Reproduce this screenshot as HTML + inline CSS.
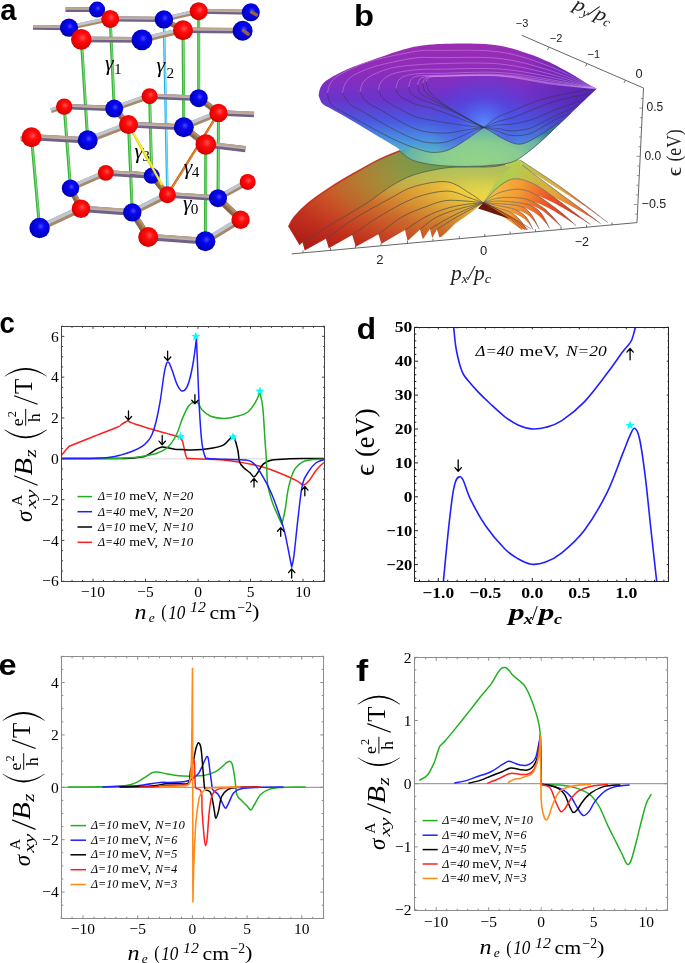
<!DOCTYPE html>
<html><head><meta charset="utf-8"><style>
html,body{margin:0;padding:0;background:#fff;}
svg{display:block;will-change:transform;}
</style></head><body>
<svg width="685" height="963" viewBox="0 0 685 963">
<rect width="685" height="963" fill="#fff"/>
<line x1="61.50" y1="458.80" x2="324.50" y2="458.80" stroke="#d8d8d8" stroke-width="1"/>
<g clip-path="url(#clipc)">
<clipPath id="clipc"><rect x="61.50" y="326.50" width="263.00" height="255.00"/></clipPath>
<path d="M61.50,455.20 C62.08,454.50 63.72,452.48 65.00,451.00 C66.28,449.52 68.50,447.08 69.20,446.30 L69.20,446.30 C73.17,444.72 85.00,439.97 93.00,436.80 C101.00,433.63 112.48,429.33 117.20,427.30 C121.92,425.27 119.93,425.48 121.30,424.60 C122.67,423.72 124.38,422.63 125.40,422.00 C126.42,421.37 127.07,421.00 127.40,420.80 L127.40,420.80 C127.92,421.03 129.13,421.63 130.50,422.20 C131.87,422.77 132.02,423.02 135.60,424.20 C139.18,425.38 146.88,427.77 152.00,429.30 C157.12,430.83 162.05,432.20 166.30,433.40 C170.55,434.60 175.12,435.65 177.50,436.50 C179.88,437.35 179.75,437.65 180.60,438.50 C181.45,439.35 181.92,439.55 182.60,441.60 C183.28,443.65 184.02,448.13 184.70,450.80 C185.38,453.47 185.68,456.30 186.70,457.60 C187.72,458.90 184.62,458.18 190.80,458.60 C196.98,459.02 213.55,459.12 223.80,460.10 C234.05,461.08 245.00,463.10 252.30,464.50 C259.60,465.90 261.40,466.38 267.60,468.50 C273.80,470.62 284.40,475.02 289.50,477.20 C294.60,479.38 295.83,480.32 298.20,481.60 C300.57,482.88 301.87,485.08 303.70,484.90 C305.53,484.72 307.18,482.87 309.20,480.50 C311.22,478.13 313.83,473.28 315.80,470.70 C317.77,468.12 319.55,466.40 321.00,465.00 C322.45,463.60 323.92,462.75 324.50,462.30" stroke="#ff1f1f" stroke-width="1.50" fill="none" stroke-linejoin="round" stroke-linecap="round"/>
<path d="M61.50,458.60 C71.25,458.58 106.92,458.73 120.00,458.50 C133.08,458.27 135.70,457.63 140.00,457.20 C144.30,456.77 143.47,456.97 145.80,455.90 C148.13,454.83 151.97,452.05 154.00,450.80 C156.03,449.55 156.63,449.02 158.00,448.40 C159.37,447.78 160.70,447.23 162.20,447.10 C163.70,446.97 164.97,447.25 167.00,447.60 C169.03,447.95 171.90,448.87 174.40,449.20 C176.90,449.53 179.27,449.47 182.00,449.60 C184.73,449.73 187.47,450.00 190.80,450.00 C194.13,450.00 198.33,449.92 202.00,449.60 C205.67,449.28 209.17,448.90 212.80,448.10 C216.43,447.30 220.87,446.45 223.80,444.80 C226.73,443.15 228.77,439.80 230.40,438.20 C232.03,436.60 233.07,435.70 233.60,435.20 L233.60,435.20 C233.97,436.37 235.07,439.57 235.80,442.20 C236.53,444.83 237.37,447.72 238.00,451.00 C238.63,454.28 238.68,459.17 239.60,461.90 C240.52,464.63 241.77,465.58 243.50,467.40 C245.23,469.22 248.25,471.23 250.00,472.80 C251.75,474.37 252.72,476.80 254.00,476.80 C255.28,476.80 256.17,474.92 257.70,472.80 C259.23,470.68 260.82,466.22 263.20,464.10 C265.58,461.98 267.62,460.98 272.00,460.10 C276.38,459.22 283.67,459.05 289.50,458.80 C295.33,458.55 301.25,458.63 307.00,458.60 C312.75,458.57 321.17,458.60 324.00,458.60" stroke="#000" stroke-width="1.50" fill="none" stroke-linejoin="round" stroke-linecap="round"/>
<path d="M61.50,458.60 C69.58,458.58 98.58,458.63 110.00,458.50 C121.42,458.37 124.72,458.13 130.00,457.80 C135.28,457.47 138.37,456.97 141.70,456.50 C145.03,456.03 147.27,455.62 150.00,455.00 C152.73,454.38 155.05,454.18 158.10,452.80 C161.15,451.42 165.23,449.75 168.30,446.70 C171.37,443.65 174.12,439.27 176.50,434.50 C178.88,429.73 180.55,422.88 182.60,418.10 C184.65,413.32 186.75,408.52 188.80,405.80 C190.85,403.08 193.28,402.18 194.90,401.80 C196.52,401.42 197.33,402.17 198.50,403.50 C199.67,404.83 199.87,407.67 201.90,409.80 C203.93,411.93 207.05,414.85 210.70,416.30 C214.35,417.75 219.43,418.50 223.80,418.50 C228.17,418.50 232.88,417.38 236.90,416.30 C240.92,415.22 244.80,414.37 247.90,412.00 C251.00,409.63 253.50,405.38 255.50,402.10 C257.50,398.82 259.17,393.93 259.90,392.30 L259.90,392.30 C260.38,394.85 261.95,399.58 262.80,407.60 C263.65,415.62 264.38,431.35 265.00,440.40 C265.62,449.45 266.07,454.67 266.50,461.90 C266.93,469.13 266.68,477.23 267.60,483.80 C268.52,490.37 270.37,496.20 272.00,501.30 C273.63,506.40 275.77,510.57 277.40,514.40 C279.03,518.23 281.07,522.65 281.80,524.30 L281.80,524.30 C282.35,521.92 284.00,516.02 285.10,510.00 C286.20,503.98 286.93,494.75 288.40,488.20 C289.87,481.65 291.53,475.08 293.90,470.70 C296.27,466.32 299.68,463.73 302.60,461.90 C305.52,460.07 307.83,460.13 311.40,459.70 C314.97,459.27 321.90,459.37 324.00,459.30" stroke="#22b022" stroke-width="1.50" fill="none" stroke-linejoin="round" stroke-linecap="round"/>
<path d="M61.50,458.60 C66.25,458.58 81.92,458.72 90.00,458.50 C98.08,458.28 104.78,457.90 110.00,457.30 C115.22,456.70 117.47,455.95 121.30,454.90 C125.13,453.85 129.60,452.37 133.00,451.00 C136.40,449.63 139.20,448.37 141.70,446.70 C144.20,445.03 146.28,443.03 148.00,441.00 C149.72,438.97 150.67,437.67 152.00,434.50 C153.33,431.33 154.65,427.47 156.00,422.00 C157.35,416.53 158.73,409.85 160.10,401.70 C161.47,393.55 163.13,379.47 164.20,373.10 C165.27,366.73 165.88,365.37 166.50,363.50 C167.12,361.63 167.40,361.90 167.90,361.90 C168.40,361.90 168.75,361.97 169.50,363.50 C170.25,365.03 171.07,367.45 172.40,371.10 C173.73,374.75 175.87,382.07 177.50,385.40 C179.13,388.73 180.50,391.10 182.20,391.10 C183.90,391.10 185.93,389.75 187.70,385.40 C189.47,381.05 191.35,372.80 192.80,365.00 C194.25,357.20 195.80,343.00 196.40,338.60 L196.40,338.60 C196.58,342.80 197.02,352.30 197.50,363.80 C197.98,375.30 198.57,394.47 199.30,407.60 C200.03,420.73 200.92,434.38 201.90,442.60 C202.88,450.82 204.10,454.27 205.20,456.90 C206.30,459.53 205.40,458.00 208.50,458.40 C211.60,458.80 217.60,459.02 223.80,459.30 C230.00,459.58 240.60,459.30 245.70,460.10 C250.80,460.90 251.48,461.25 254.40,464.10 C257.32,466.95 260.27,472.10 263.20,477.20 C266.13,482.30 269.08,487.77 272.00,494.70 C274.92,501.63 278.52,512.22 280.70,518.80 C282.88,525.38 283.63,528.00 285.10,534.20 C286.57,540.40 288.40,550.53 289.50,556.00 C290.60,561.47 291.33,565.17 291.70,567.00 L291.70,567.00 C292.07,565.17 292.82,564.40 293.90,556.00 C294.98,547.60 296.75,528.63 298.20,516.60 C299.65,504.57 300.77,491.45 302.60,483.80 C304.43,476.15 307.00,474.17 309.20,470.70 C311.40,467.23 313.43,464.83 315.80,463.00 C318.17,461.17 322.03,460.28 323.40,459.70 C324.77,459.12 323.90,459.53 324.00,459.50" stroke="#1f1fff" stroke-width="1.50" fill="none" stroke-linejoin="round" stroke-linecap="round"/>
</g>
<rect x="61.50" y="326.50" width="263.00" height="255.00" fill="none" stroke="#444" stroke-width="1.00"/>
<path d="M93.00,581.50v-2.80M93.00,326.50v2.38M145.50,581.50v-2.80M145.50,326.50v2.38M198.00,581.50v-2.80M198.00,326.50v2.38M250.50,581.50v-2.80M250.50,326.50v2.38M303.00,581.50v-2.80M303.00,326.50v2.38M61.50,581.50v-1.60M61.50,326.50v1.36M72.00,581.50v-1.60M72.00,326.50v1.36M82.50,581.50v-1.60M82.50,326.50v1.36M103.50,581.50v-1.60M103.50,326.50v1.36M114.00,581.50v-1.60M114.00,326.50v1.36M124.50,581.50v-1.60M124.50,326.50v1.36M135.00,581.50v-1.60M135.00,326.50v1.36M156.00,581.50v-1.60M156.00,326.50v1.36M166.50,581.50v-1.60M166.50,326.50v1.36M177.00,581.50v-1.60M177.00,326.50v1.36M187.50,581.50v-1.60M187.50,326.50v1.36M208.50,581.50v-1.60M208.50,326.50v1.36M219.00,581.50v-1.60M219.00,326.50v1.36M229.50,581.50v-1.60M229.50,326.50v1.36M240.00,581.50v-1.60M240.00,326.50v1.36M261.00,581.50v-1.60M261.00,326.50v1.36M271.50,581.50v-1.60M271.50,326.50v1.36M282.00,581.50v-1.60M282.00,326.50v1.36M292.50,581.50v-1.60M292.50,326.50v1.36M313.50,581.50v-1.60M313.50,326.50v1.36M324.00,581.50v-1.60M324.00,326.50v1.36M61.50,581.26h2.80M324.50,581.26h-2.38M61.50,540.44h2.80M324.50,540.44h-2.38M61.50,499.62h2.80M324.50,499.62h-2.38M61.50,458.80h2.80M324.50,458.80h-2.38M61.50,417.98h2.80M324.50,417.98h-2.38M61.50,377.16h2.80M324.50,377.16h-2.38M61.50,336.34h2.80M324.50,336.34h-2.38M61.50,571.06h1.60M324.50,571.06h-1.36M61.50,560.85h1.60M324.50,560.85h-1.36M61.50,550.64h1.60M324.50,550.64h-1.36M61.50,530.24h1.60M324.50,530.24h-1.36M61.50,520.03h1.60M324.50,520.03h-1.36M61.50,509.82h1.60M324.50,509.82h-1.36M61.50,489.42h1.60M324.50,489.42h-1.36M61.50,479.21h1.60M324.50,479.21h-1.36M61.50,469.00h1.60M324.50,469.00h-1.36M61.50,448.60h1.60M324.50,448.60h-1.36M61.50,438.39h1.60M324.50,438.39h-1.36M61.50,428.19h1.60M324.50,428.19h-1.36M61.50,407.78h1.60M324.50,407.78h-1.36M61.50,397.57h1.60M324.50,397.57h-1.36M61.50,387.37h1.60M324.50,387.37h-1.36M61.50,366.96h1.60M324.50,366.96h-1.36M61.50,356.75h1.60M324.50,356.75h-1.36M61.50,346.55h1.60M324.50,346.55h-1.36M61.50,326.13h1.60M324.50,326.13h-1.36" stroke="#444" stroke-width="1.00" fill="none"/>
<text x="58.80" y="586.46" font-family="'Liberation Serif', serif" font-size="15.50" text-anchor="end" font-weight="normal" font-style="normal" fill="#000" >&#8722;6</text>
<text x="58.80" y="545.64" font-family="'Liberation Serif', serif" font-size="15.50" text-anchor="end" font-weight="normal" font-style="normal" fill="#000" >&#8722;4</text>
<text x="58.80" y="504.82" font-family="'Liberation Serif', serif" font-size="15.50" text-anchor="end" font-weight="normal" font-style="normal" fill="#000" >&#8722;2</text>
<text x="58.80" y="464.00" font-family="'Liberation Serif', serif" font-size="15.50" text-anchor="end" font-weight="normal" font-style="normal" fill="#000" >0</text>
<text x="58.80" y="423.18" font-family="'Liberation Serif', serif" font-size="15.50" text-anchor="end" font-weight="normal" font-style="normal" fill="#000" >2</text>
<text x="58.80" y="382.36" font-family="'Liberation Serif', serif" font-size="15.50" text-anchor="end" font-weight="normal" font-style="normal" fill="#000" >4</text>
<text x="58.80" y="341.54" font-family="'Liberation Serif', serif" font-size="15.50" text-anchor="end" font-weight="normal" font-style="normal" fill="#000" >6</text>
<text x="93.00" y="596.50" font-family="'Liberation Serif', serif" font-size="15.50" text-anchor="middle" font-weight="normal" font-style="normal" fill="#000" >&#8722;10</text>
<text x="145.50" y="596.50" font-family="'Liberation Serif', serif" font-size="15.50" text-anchor="middle" font-weight="normal" font-style="normal" fill="#000" >&#8722;5</text>
<text x="198.00" y="596.50" font-family="'Liberation Serif', serif" font-size="15.50" text-anchor="middle" font-weight="normal" font-style="normal" fill="#000" >0</text>
<text x="250.50" y="596.50" font-family="'Liberation Serif', serif" font-size="15.50" text-anchor="middle" font-weight="normal" font-style="normal" fill="#000" >5</text>
<text x="303.00" y="596.50" font-family="'Liberation Serif', serif" font-size="15.50" text-anchor="middle" font-weight="normal" font-style="normal" fill="#000" >10</text>
<path d="M128.50,411.00V420.00M125.30,416.40L128.50,420.00L131.70,416.40" stroke="#000" stroke-width="1.3" fill="none" stroke-linecap="round" stroke-linejoin="round"/>
<path d="M167.60,351.20V360.60M164.40,357.00L167.60,360.60L170.80,357.00" stroke="#000" stroke-width="1.3" fill="none" stroke-linecap="round" stroke-linejoin="round"/>
<path d="M162.20,435.50V444.70M159.00,441.10L162.20,444.70L165.40,441.10" stroke="#000" stroke-width="1.3" fill="none" stroke-linecap="round" stroke-linejoin="round"/>
<path d="M194.90,394.60V403.80M191.70,400.20L194.90,403.80L198.10,400.20" stroke="#000" stroke-width="1.3" fill="none" stroke-linecap="round" stroke-linejoin="round"/>
<path d="M254.00,487.00V478.50M250.80,482.10L254.00,478.50L257.20,482.10" stroke="#000" stroke-width="1.3" fill="none" stroke-linecap="round" stroke-linejoin="round"/>
<path d="M280.70,536.30V527.60M277.50,531.20L280.70,527.60L283.90,531.20" stroke="#000" stroke-width="1.3" fill="none" stroke-linecap="round" stroke-linejoin="round"/>
<path d="M291.70,578.00V569.00M288.50,572.60L291.70,569.00L294.90,572.60" stroke="#000" stroke-width="1.3" fill="none" stroke-linecap="round" stroke-linejoin="round"/>
<path d="M304.80,495.80V486.50M301.60,490.10L304.80,486.50L308.00,490.10" stroke="#000" stroke-width="1.3" fill="none" stroke-linecap="round" stroke-linejoin="round"/>
<polygon points="195.80,331.60 196.98,334.78 200.37,334.92 197.70,337.02 198.62,340.28 195.80,338.40 192.98,340.28 193.90,337.02 191.23,334.92 194.62,334.78" fill="#00ffff"/>
<polygon points="180.60,431.70 181.78,434.88 185.17,435.02 182.50,437.12 183.42,440.38 180.60,438.50 177.78,440.38 178.70,437.12 176.03,435.02 179.42,434.88" fill="#00ffff"/>
<polygon points="259.90,386.40 261.08,389.58 264.47,389.72 261.80,391.82 262.72,395.08 259.90,393.20 257.08,395.08 258.00,391.82 255.33,389.72 258.72,389.58" fill="#00ffff"/>
<polygon points="233.00,432.30 234.18,435.48 237.57,435.62 234.90,437.72 235.82,440.98 233.00,439.10 230.18,440.98 231.10,437.72 228.43,435.62 231.82,435.48" fill="#00ffff"/>
<line x1="77.50" y1="496.60" x2="92.10" y2="496.60" stroke="#22b022" stroke-width="1.5"/>
<text x="98.00" y="500.40" font-family="'Liberation Serif', serif" font-size="12.80" font-style="italic" textLength="27.20" lengthAdjust="spacingAndGlyphs">&#916;=10</text>
<text x="129.20" y="500.40" font-family="'Liberation Serif', serif" font-size="12.80" textLength="28.90" lengthAdjust="spacingAndGlyphs">meV,</text>
<text x="162.90" y="500.40" font-family="'Liberation Serif', serif" font-size="12.80" font-style="italic" textLength="30.20" lengthAdjust="spacingAndGlyphs">N=20</text>
<line x1="77.50" y1="511.70" x2="92.10" y2="511.70" stroke="#1f1fff" stroke-width="1.5"/>
<text x="98.00" y="515.50" font-family="'Liberation Serif', serif" font-size="12.80" font-style="italic" textLength="27.20" lengthAdjust="spacingAndGlyphs">&#916;=40</text>
<text x="129.20" y="515.50" font-family="'Liberation Serif', serif" font-size="12.80" textLength="28.90" lengthAdjust="spacingAndGlyphs">meV,</text>
<text x="162.90" y="515.50" font-family="'Liberation Serif', serif" font-size="12.80" font-style="italic" textLength="30.20" lengthAdjust="spacingAndGlyphs">N=20</text>
<line x1="77.50" y1="527.00" x2="92.10" y2="527.00" stroke="#000" stroke-width="1.5"/>
<text x="98.00" y="530.80" font-family="'Liberation Serif', serif" font-size="12.80" font-style="italic" textLength="27.20" lengthAdjust="spacingAndGlyphs">&#916;=10</text>
<text x="129.20" y="530.80" font-family="'Liberation Serif', serif" font-size="12.80" textLength="28.90" lengthAdjust="spacingAndGlyphs">meV,</text>
<text x="162.90" y="530.80" font-family="'Liberation Serif', serif" font-size="12.80" font-style="italic" textLength="30.20" lengthAdjust="spacingAndGlyphs">N=10</text>
<line x1="77.50" y1="542.30" x2="92.10" y2="542.30" stroke="#ff1f1f" stroke-width="1.5"/>
<text x="98.00" y="546.10" font-family="'Liberation Serif', serif" font-size="12.80" font-style="italic" textLength="27.20" lengthAdjust="spacingAndGlyphs">&#916;=40</text>
<text x="129.20" y="546.10" font-family="'Liberation Serif', serif" font-size="12.80" textLength="28.90" lengthAdjust="spacingAndGlyphs">meV,</text>
<text x="162.90" y="546.10" font-family="'Liberation Serif', serif" font-size="12.80" font-style="italic" textLength="30.20" lengthAdjust="spacingAndGlyphs">N=10</text>
<text x="134.40" y="618.70" font-family="'Liberation Serif', serif" font-size="20.00" font-style="italic" textLength="12.00" lengthAdjust="spacingAndGlyphs">n</text>
<text x="148.70" y="622.00" font-family="'Liberation Serif', serif" font-size="13.50" font-style="italic" textLength="6.00" lengthAdjust="spacingAndGlyphs">e</text>
<text x="161.30" y="618.20" font-family="'Liberation Serif', serif" font-size="18.50"  textLength="5.40" lengthAdjust="spacingAndGlyphs">(</text>
<text x="168.20" y="618.70" font-family="'Liberation Serif', serif" font-size="18.00" font-style="italic" textLength="17.20" lengthAdjust="spacingAndGlyphs">10</text>
<text x="190.00" y="612.20" font-family="'Liberation Serif', serif" font-size="14.00" font-style="italic" textLength="15.80" lengthAdjust="spacingAndGlyphs">12</text>
<text x="209.60" y="618.70" font-family="'Liberation Serif', serif" font-size="19.50"  textLength="26.60" lengthAdjust="spacingAndGlyphs">cm</text>
<text x="237.60" y="612.20" font-family="'Liberation Serif', serif" font-size="14.00"  textLength="14.60" lengthAdjust="spacingAndGlyphs">&#8722;2</text>
<text x="252.00" y="618.20" font-family="'Liberation Serif', serif" font-size="18.50"  textLength="7.40" lengthAdjust="spacingAndGlyphs">)</text>
<g transform="translate(31.70,521.50) rotate(-90)" font-family="'Liberation Serif', serif" fill="#000">
<text x="-0.5" y="0" font-size="23" font-style="italic">&#963;</text>
<text x="15.6" y="-9.6" font-size="15.5">A</text>
<text x="13.0" y="4.6" font-size="15" font-style="italic" textLength="19" lengthAdjust="spacingAndGlyphs">xy</text>
<path d="M36.3,5.9 L45.8,-17.6" stroke="#000" stroke-width="1.15"/>
<text x="46.0" y="0" font-size="24.5" font-style="italic" textLength="17.5" lengthAdjust="spacingAndGlyphs">B</text>
<text x="64.0" y="3.9" font-size="16" font-style="italic" textLength="8.2" lengthAdjust="spacingAndGlyphs">z</text>
<path d="M91.6,-27.2 Q75.0,-6 91.6,15.2 L92.0,14.9 Q78.2,-6 92.0,-26.9 Z" fill="#000"/>
<path d="M145.3,-27.2 Q161.9,-6 145.3,15.2 L144.9,14.9 Q158.7,-6 144.9,-26.9 Z" fill="#000"/>
<text x="95.3" y="-8.6" font-size="17.5">e</text>
<text x="104.3" y="-16.1" font-size="12.3">2</text>
<line x1="95.8" y1="-6" x2="112.6" y2="-6" stroke="#000" stroke-width="0.95"/>
<text x="99.6" y="8.3" font-size="17.5">h</text>
<path d="M117.2,5.9 L125.8,-17.6" stroke="#000" stroke-width="1.15"/>
<text x="127.6" y="0.3" font-size="25">T</text>
</g>
<clipPath id="clipd"><rect x="414.50" y="327.50" width="254.00" height="254.00"/></clipPath>
<g clip-path="url(#clipd)">
<path d="M453.70,327.30 C454.00,330.22 454.82,339.85 455.50,344.80 C456.18,349.75 456.93,353.17 457.80,357.00 C458.67,360.83 459.75,364.88 460.70,367.80 C461.65,370.72 462.28,372.38 463.50,374.50 C464.72,376.62 465.53,377.57 468.00,380.50 C470.47,383.43 474.63,388.27 478.30,392.10 C481.97,395.93 485.57,399.38 490.00,403.50 C494.43,407.62 500.23,413.22 504.90,416.80 C509.57,420.38 513.58,422.98 518.00,425.00 C522.42,427.02 526.73,428.52 531.40,428.90 C536.07,429.28 540.93,428.68 546.00,427.30 C551.07,425.92 555.37,424.88 561.80,420.60 C568.23,416.32 577.02,409.52 584.60,401.60 C592.18,393.68 600.98,381.37 607.30,373.10 C613.62,364.83 619.05,356.60 622.50,352.00 C625.95,347.40 626.50,347.42 628.00,345.50 C629.50,343.58 630.52,342.58 631.50,340.50 C632.48,338.42 633.27,335.20 633.90,333.00 C634.53,330.80 635.07,328.25 635.30,327.30" stroke="#1f1fff" stroke-width="1.60" fill="none" stroke-linejoin="round" stroke-linecap="round"/>
<path d="M443.40,581.40 C444.17,573.47 446.48,548.05 448.00,533.80 C449.52,519.55 451.23,504.62 452.50,495.90 C453.77,487.18 454.47,484.67 455.60,481.50 C456.73,478.33 458.05,477.15 459.30,476.90 C460.55,476.65 461.20,476.20 463.10,480.00 C465.00,483.80 466.90,491.98 470.70,499.70 C474.50,507.42 480.20,518.08 485.90,526.30 C491.60,534.52 499.55,543.58 504.90,549.00 C510.25,554.42 513.58,556.27 518.00,558.80 C522.42,561.33 526.90,563.62 531.40,564.20 C535.90,564.78 539.93,564.20 545.00,562.30 C550.07,560.40 555.20,558.18 561.80,552.80 C568.40,547.42 577.02,540.12 584.60,530.00 C592.18,519.88 600.98,504.75 607.30,492.10 C613.62,479.45 618.70,463.58 622.50,454.10 C626.30,444.62 628.07,439.50 630.10,435.20 C632.13,430.90 633.12,427.67 634.70,428.30 C636.28,428.93 637.83,430.90 639.60,439.00 C641.37,447.10 643.40,461.73 645.30,476.90 C647.20,492.07 649.10,512.58 651.00,530.00 C652.90,547.42 655.75,572.83 656.70,581.40" stroke="#1f1fff" stroke-width="1.60" fill="none" stroke-linejoin="round" stroke-linecap="round"/>
</g>
<rect x="414.50" y="327.50" width="254.00" height="254.00" fill="none" stroke="#222" stroke-width="1.00"/>
<path d="M438.30,581.50v-3.50M438.30,327.50v1.75M485.30,581.50v-3.50M485.30,327.50v1.75M532.30,581.50v-3.50M532.30,327.50v1.75M579.30,581.50v-3.50M579.30,327.50v1.75M626.30,581.50v-3.50M626.30,327.50v1.75M419.50,581.50v-1.80M419.50,327.50v0.90M428.90,581.50v-1.80M428.90,327.50v0.90M447.70,581.50v-1.80M447.70,327.50v0.90M457.10,581.50v-1.80M457.10,327.50v0.90M466.50,581.50v-1.80M466.50,327.50v0.90M475.90,581.50v-1.80M475.90,327.50v0.90M494.70,581.50v-1.80M494.70,327.50v0.90M504.10,581.50v-1.80M504.10,327.50v0.90M513.50,581.50v-1.80M513.50,327.50v0.90M522.90,581.50v-1.80M522.90,327.50v0.90M541.70,581.50v-1.80M541.70,327.50v0.90M551.10,581.50v-1.80M551.10,327.50v0.90M560.50,581.50v-1.80M560.50,327.50v0.90M569.90,581.50v-1.80M569.90,327.50v0.90M588.70,581.50v-1.80M588.70,327.50v0.90M598.10,581.50v-1.80M598.10,327.50v0.90M607.50,581.50v-1.80M607.50,327.50v0.90M616.90,581.50v-1.80M616.90,327.50v0.90M635.70,581.50v-1.80M635.70,327.50v0.90M645.10,581.50v-1.80M645.10,327.50v0.90M654.50,581.50v-1.80M654.50,327.50v0.90M663.90,581.50v-1.80M663.90,327.50v0.90M414.50,564.60h3.50M668.50,564.60h-1.75M414.50,530.70h3.50M668.50,530.70h-1.75M414.50,496.80h3.50M668.50,496.80h-1.75M414.50,462.90h3.50M668.50,462.90h-1.75M414.50,429.00h3.50M668.50,429.00h-1.75M414.50,395.10h3.50M668.50,395.10h-1.75M414.50,361.20h3.50M668.50,361.20h-1.75M414.50,327.30h3.50M668.50,327.30h-1.75M414.50,578.16h1.80M668.50,578.16h-0.90M414.50,571.38h1.80M668.50,571.38h-0.90M414.50,557.82h1.80M668.50,557.82h-0.90M414.50,551.04h1.80M668.50,551.04h-0.90M414.50,544.26h1.80M668.50,544.26h-0.90M414.50,537.48h1.80M668.50,537.48h-0.90M414.50,523.92h1.80M668.50,523.92h-0.90M414.50,517.14h1.80M668.50,517.14h-0.90M414.50,510.36h1.80M668.50,510.36h-0.90M414.50,503.58h1.80M668.50,503.58h-0.90M414.50,490.02h1.80M668.50,490.02h-0.90M414.50,483.24h1.80M668.50,483.24h-0.90M414.50,476.46h1.80M668.50,476.46h-0.90M414.50,469.68h1.80M668.50,469.68h-0.90M414.50,456.12h1.80M668.50,456.12h-0.90M414.50,449.34h1.80M668.50,449.34h-0.90M414.50,442.56h1.80M668.50,442.56h-0.90M414.50,435.78h1.80M668.50,435.78h-0.90M414.50,422.22h1.80M668.50,422.22h-0.90M414.50,415.44h1.80M668.50,415.44h-0.90M414.50,408.66h1.80M668.50,408.66h-0.90M414.50,401.88h1.80M668.50,401.88h-0.90M414.50,388.32h1.80M668.50,388.32h-0.90M414.50,381.54h1.80M668.50,381.54h-0.90M414.50,374.76h1.80M668.50,374.76h-0.90M414.50,367.98h1.80M668.50,367.98h-0.90M414.50,354.42h1.80M668.50,354.42h-0.90M414.50,347.64h1.80M668.50,347.64h-0.90M414.50,340.86h1.80M668.50,340.86h-0.90M414.50,334.08h1.80M668.50,334.08h-0.90" stroke="#222" stroke-width="1.00" fill="none"/>
<text x="412.40" y="569.60" font-family="'Liberation Serif', serif" font-size="15.5" font-weight="bold" text-anchor="end" textLength="26.0" lengthAdjust="spacingAndGlyphs">&#8722;20</text>
<text x="412.40" y="535.70" font-family="'Liberation Serif', serif" font-size="15.5" font-weight="bold" text-anchor="end" textLength="26.0" lengthAdjust="spacingAndGlyphs">&#8722;10</text>
<text x="412.40" y="501.80" font-family="'Liberation Serif', serif" font-size="15.5" font-weight="bold" text-anchor="end" textLength="8.6" lengthAdjust="spacingAndGlyphs">0</text>
<text x="412.40" y="467.90" font-family="'Liberation Serif', serif" font-size="15.5" font-weight="bold" text-anchor="end" textLength="17.6" lengthAdjust="spacingAndGlyphs">10</text>
<text x="412.40" y="434.00" font-family="'Liberation Serif', serif" font-size="15.5" font-weight="bold" text-anchor="end" textLength="17.6" lengthAdjust="spacingAndGlyphs">20</text>
<text x="412.40" y="400.10" font-family="'Liberation Serif', serif" font-size="15.5" font-weight="bold" text-anchor="end" textLength="17.6" lengthAdjust="spacingAndGlyphs">30</text>
<text x="412.40" y="366.20" font-family="'Liberation Serif', serif" font-size="15.5" font-weight="bold" text-anchor="end" textLength="17.6" lengthAdjust="spacingAndGlyphs">40</text>
<text x="412.40" y="332.30" font-family="'Liberation Serif', serif" font-size="15.5" font-weight="bold" text-anchor="end" textLength="17.6" lengthAdjust="spacingAndGlyphs">50</text>
<text x="438.30" y="598.30" font-family="'Liberation Serif', serif" font-size="15.5" font-weight="bold" text-anchor="middle" textLength="31.8" lengthAdjust="spacingAndGlyphs">&#8722;1.0</text>
<text x="485.30" y="598.30" font-family="'Liberation Serif', serif" font-size="15.5" font-weight="bold" text-anchor="middle" textLength="31.8" lengthAdjust="spacingAndGlyphs">&#8722;0.5</text>
<text x="532.30" y="598.30" font-family="'Liberation Serif', serif" font-size="15.5" font-weight="bold" text-anchor="middle" textLength="22.2" lengthAdjust="spacingAndGlyphs">0.0</text>
<text x="579.30" y="598.30" font-family="'Liberation Serif', serif" font-size="15.5" font-weight="bold" text-anchor="middle" textLength="22.2" lengthAdjust="spacingAndGlyphs">0.5</text>
<text x="626.30" y="598.30" font-family="'Liberation Serif', serif" font-size="15.5" font-weight="bold" text-anchor="middle" textLength="22.2" lengthAdjust="spacingAndGlyphs">1.0</text>
<path d="M458.20,459.80V471.20M455.00,467.60L458.20,471.20L461.40,467.60" stroke="#000" stroke-width="1.3" fill="none" stroke-linecap="round" stroke-linejoin="round"/>
<path d="M630.10,359.80V348.50M626.90,352.10L630.10,348.50L633.30,352.10" stroke="#000" stroke-width="1.3" fill="none" stroke-linecap="round" stroke-linejoin="round"/>
<polygon points="630.10,420.60 631.28,423.78 634.67,423.92 632.00,426.02 632.92,429.28 630.10,427.40 627.28,429.28 628.20,426.02 625.53,423.92 628.92,423.78" fill="#00ffff"/>
<text x="475.60" y="356.00" font-family="'Liberation Serif', serif" font-size="15.50" font-style="italic"  textLength="38.00" lengthAdjust="spacingAndGlyphs" >&#916;=40</text>
<text x="519.40" y="356.00" font-family="'Liberation Serif', serif" font-size="15.50"   textLength="39.80" lengthAdjust="spacingAndGlyphs" >meV,</text>
<text x="566.00" y="356.00" font-family="'Liberation Serif', serif" font-size="15.50" font-style="italic"  textLength="40.80" lengthAdjust="spacingAndGlyphs" >N=20</text>
<text x="508.80" y="620.20" font-family="'Liberation Serif', serif" font-size="24.00" font-style="italic" font-weight="bold" textLength="15.80" lengthAdjust="spacingAndGlyphs" >p</text>
<text x="523.80" y="623.60" font-family="'Liberation Serif', serif" font-size="15.50" font-style="italic" font-weight="bold" textLength="9.00" lengthAdjust="spacingAndGlyphs" >x</text>
<text x="531.80" y="620.20" font-family="'Liberation Serif', serif" font-size="22.00"   textLength="6.00" lengthAdjust="spacingAndGlyphs" >/</text>
<text x="538.60" y="620.20" font-family="'Liberation Serif', serif" font-size="24.00" font-style="italic" font-weight="bold" textLength="15.80" lengthAdjust="spacingAndGlyphs" >p</text>
<text x="554.10" y="623.60" font-family="'Liberation Serif', serif" font-size="15.50" font-style="italic" font-weight="bold" textLength="8.00" lengthAdjust="spacingAndGlyphs" >c</text>
<g transform="translate(373.6,476) rotate(-90)" font-family="'Liberation Serif', serif">
<text x="0" y="0" font-size="27" textLength="11.8" lengthAdjust="spacingAndGlyphs">&#1013;</text>
<text x="19" y="0" font-size="28" textLength="48.5" lengthAdjust="spacingAndGlyphs">(eV)</text>
</g>
<line x1="61.50" y1="787.30" x2="323.50" y2="787.30" stroke="#888" stroke-width="1"/>
<clipPath id="clipe"><rect x="61.50" y="656.50" width="262.00" height="262.00"/></clipPath>
<g clip-path="url(#clipe)">
<path d="M68.20,787.00 C73.50,786.97 91.15,786.97 100.00,786.80 C108.85,786.63 116.13,786.38 121.30,786.00 C126.47,785.62 128.27,785.18 131.00,784.50 C133.73,783.82 135.23,783.18 137.70,781.90 C140.17,780.62 143.42,778.33 145.80,776.80 C148.18,775.27 150.05,773.50 152.00,772.70 C153.95,771.90 155.12,771.83 157.50,772.00 C159.88,772.17 162.80,773.07 166.30,773.70 C169.80,774.33 174.58,775.38 178.50,775.80 C182.42,776.22 186.22,776.20 189.80,776.20 C193.38,776.20 197.10,776.07 200.00,775.80 C202.90,775.53 204.30,775.47 207.20,774.60 C210.10,773.73 214.33,772.45 217.40,770.60 C220.47,768.75 223.55,765.07 225.60,763.50 C227.65,761.93 228.58,761.03 229.70,761.20 C230.82,761.37 231.45,761.63 232.30,764.50 C233.15,767.37 234.03,773.37 234.80,778.40 C235.57,783.43 235.70,790.95 236.90,794.70 C238.10,798.45 240.30,799.02 242.00,800.90 C243.70,802.78 245.63,804.47 247.10,806.00 C248.57,807.53 249.62,810.27 250.80,810.10 C251.98,809.93 252.60,807.57 254.20,805.00 C255.80,802.43 258.02,797.27 260.40,794.70 C262.78,792.13 265.10,790.78 268.50,789.60 C271.90,788.42 274.72,788.03 280.80,787.60 C286.88,787.17 300.97,787.10 305.00,787.00" stroke="#22b022" stroke-width="1.50" fill="none" stroke-linejoin="round" stroke-linecap="round"/>
<path d="M102.90,787.00 C107.67,786.83 124.35,786.40 131.50,786.00 C138.65,785.60 141.03,785.18 145.80,784.60 C150.57,784.02 156.00,782.85 160.10,782.50 C164.20,782.15 167.08,782.58 170.40,782.50 C173.72,782.42 177.18,782.27 180.00,782.00 C182.82,781.73 185.37,781.32 187.30,780.90 C189.23,780.48 190.27,780.23 191.60,779.50 C192.93,778.77 194.08,777.60 195.30,776.50 C196.52,775.40 197.82,774.47 198.90,772.90 C199.98,771.33 200.83,769.17 201.80,767.10 C202.77,765.03 203.85,762.27 204.70,760.50 C205.55,758.73 206.28,756.73 206.90,756.50 C207.52,756.27 207.92,756.85 208.40,759.10 C208.88,761.35 209.32,766.37 209.80,770.00 C210.28,773.63 210.87,777.75 211.30,780.90 C211.73,784.05 211.92,787.20 212.40,788.90 C212.88,790.60 213.30,790.25 214.20,791.10 C215.10,791.95 216.75,792.72 217.80,794.00 C218.85,795.28 219.27,796.47 220.50,798.80 C221.73,801.13 223.83,807.32 225.20,808.00 C226.57,808.68 227.27,805.45 228.70,802.90 C230.13,800.35 231.58,795.08 233.80,792.70 C236.02,790.32 237.63,789.50 242.00,788.60 C246.37,787.70 253.17,787.57 260.00,787.30 C266.83,787.03 279.17,787.05 283.00,787.00" stroke="#1f1fff" stroke-width="1.50" fill="none" stroke-linejoin="round" stroke-linecap="round"/>
<path d="M120.00,787.00 C123.62,786.93 135.68,786.87 141.70,786.60 C147.72,786.33 152.00,785.87 156.10,785.40 C160.20,784.93 162.32,784.07 166.30,783.80 C170.28,783.53 176.50,783.80 180.00,783.80 C183.50,783.80 185.72,784.40 187.30,783.80 C188.88,783.20 188.97,782.38 189.50,780.20 C190.03,778.02 189.83,773.98 190.50,770.70 C191.17,767.42 192.58,764.25 193.50,760.50 C194.42,756.75 195.17,751.17 196.00,748.20 C196.83,745.23 197.72,742.95 198.50,742.70 C199.28,742.45 200.15,744.57 200.70,746.70 C201.25,748.83 201.37,751.02 201.80,755.50 C202.23,759.98 202.82,768.15 203.30,773.60 C203.78,779.05 203.98,785.40 204.70,788.20 C205.42,791.00 206.63,789.68 207.60,790.40 C208.57,791.12 209.68,790.90 210.50,792.50 C211.32,794.10 211.85,796.90 212.50,800.00 C213.15,803.10 213.85,808.07 214.40,811.10 C214.95,814.13 215.12,818.20 215.80,818.20 C216.48,818.20 217.55,814.67 218.50,811.10 C219.45,807.53 219.97,800.38 221.50,796.80 C223.03,793.22 225.32,791.13 227.70,789.60 C230.08,788.07 230.75,788.03 235.80,787.60 C240.85,787.17 254.30,787.10 258.00,787.00" stroke="#000" stroke-width="1.50" fill="none" stroke-linejoin="round" stroke-linecap="round"/>
<path d="M140.00,787.00 C142.00,787.00 147.62,787.27 152.00,787.00 C156.38,786.73 161.63,785.68 166.30,785.40 C170.97,785.12 176.38,785.45 180.00,785.30 C183.62,785.15 186.30,785.23 188.00,784.50 C189.70,783.77 189.60,783.20 190.20,780.90 C190.80,778.60 191.15,774.10 191.60,770.70 C192.05,767.30 192.47,762.12 192.90,760.50 C193.33,758.88 193.88,758.82 194.20,761.00 C194.52,763.18 194.58,769.23 194.80,773.60 C195.02,777.97 194.93,784.65 195.50,787.20 C196.07,789.75 197.38,788.37 198.20,788.90 C199.02,789.43 199.80,789.30 200.40,790.40 C201.00,791.50 201.52,792.05 201.80,795.50 C202.08,798.95 201.70,804.07 202.10,811.10 C202.50,818.13 203.62,831.92 204.20,837.70 C204.78,843.48 205.10,845.80 205.60,845.80 C206.10,845.80 206.58,843.48 207.20,837.70 C207.82,831.92 208.45,818.27 209.30,811.10 C210.15,803.93 210.60,798.45 212.30,794.70 C214.00,790.95 215.72,789.83 219.50,788.60 C223.28,787.37 228.25,787.57 235.00,787.30 C241.75,787.03 255.83,787.05 260.00,787.00" stroke="#ff1f1f" stroke-width="1.50" fill="none" stroke-linejoin="round" stroke-linecap="round"/>
<path d="M160.00,787.00 C163.33,786.83 175.45,786.28 180.00,786.00 C184.55,785.72 185.72,785.90 187.30,785.30 C188.88,784.70 188.90,784.35 189.50,782.40 C190.10,780.45 190.55,778.70 190.90,773.60 C191.25,768.50 191.38,764.07 191.60,751.80 C191.82,739.53 192.05,713.93 192.20,700.00 C192.35,686.07 192.45,673.50 192.50,668.20 L192.50,668.20 C192.53,686.83 192.63,741.03 192.70,780.00 C192.77,818.97 192.87,881.67 192.90,902.00 L192.90,902.00 C193.07,895.37 193.38,875.65 193.90,862.20 C194.42,848.75 195.15,831.87 196.00,821.30 C196.85,810.73 198.15,803.35 199.00,798.80 C199.85,794.25 200.38,795.30 201.10,794.00 C201.82,792.70 202.45,791.80 203.30,791.00 C204.15,790.20 205.20,789.70 206.20,789.20 C207.20,788.70 207.00,788.30 209.30,788.00 C211.60,787.70 214.88,787.57 220.00,787.40 C225.12,787.23 236.67,787.07 240.00,787.00" stroke="#ff8c1a" stroke-width="1.60" fill="none" stroke-linejoin="round" stroke-linecap="round"/>
</g>
<rect x="61.50" y="656.50" width="262.00" height="262.00" fill="none" stroke="#8c8c8c" stroke-width="1.00"/>
<path d="M83.00,918.50v-3.20M83.00,656.50v3.20M137.70,918.50v-3.20M137.70,656.50v3.20M192.40,918.50v-3.20M192.40,656.50v3.20M247.10,918.50v-3.20M247.10,656.50v3.20M301.80,918.50v-3.20M301.80,656.50v3.20M61.12,918.50v-1.80M61.12,656.50v1.80M72.06,918.50v-1.80M72.06,656.50v1.80M93.94,918.50v-1.80M93.94,656.50v1.80M104.88,918.50v-1.80M104.88,656.50v1.80M115.82,918.50v-1.80M115.82,656.50v1.80M126.76,918.50v-1.80M126.76,656.50v1.80M148.64,918.50v-1.80M148.64,656.50v1.80M159.58,918.50v-1.80M159.58,656.50v1.80M170.52,918.50v-1.80M170.52,656.50v1.80M181.46,918.50v-1.80M181.46,656.50v1.80M203.34,918.50v-1.80M203.34,656.50v1.80M214.28,918.50v-1.80M214.28,656.50v1.80M225.22,918.50v-1.80M225.22,656.50v1.80M236.16,918.50v-1.80M236.16,656.50v1.80M258.04,918.50v-1.80M258.04,656.50v1.80M268.98,918.50v-1.80M268.98,656.50v1.80M279.92,918.50v-1.80M279.92,656.50v1.80M290.86,918.50v-1.80M290.86,656.50v1.80M312.74,918.50v-1.80M312.74,656.50v1.80M323.68,918.50v-1.80M323.68,656.50v1.80M61.50,892.10h3.20M323.50,892.10h-3.20M61.50,839.70h3.20M323.50,839.70h-3.20M61.50,787.30h3.20M323.50,787.30h-3.20M61.50,734.90h3.20M323.50,734.90h-3.20M61.50,682.50h3.20M323.50,682.50h-3.20M61.50,918.30h1.80M323.50,918.30h-1.80M61.50,905.20h1.80M323.50,905.20h-1.80M61.50,879.00h1.80M323.50,879.00h-1.80M61.50,865.90h1.80M323.50,865.90h-1.80M61.50,852.80h1.80M323.50,852.80h-1.80M61.50,826.60h1.80M323.50,826.60h-1.80M61.50,813.50h1.80M323.50,813.50h-1.80M61.50,800.40h1.80M323.50,800.40h-1.80M61.50,774.20h1.80M323.50,774.20h-1.80M61.50,761.10h1.80M323.50,761.10h-1.80M61.50,748.00h1.80M323.50,748.00h-1.80M61.50,721.80h1.80M323.50,721.80h-1.80M61.50,708.70h1.80M323.50,708.70h-1.80M61.50,695.60h1.80M323.50,695.60h-1.80M61.50,669.40h1.80M323.50,669.40h-1.80M61.50,656.30h1.80M323.50,656.30h-1.80" stroke="#8c8c8c" stroke-width="1.00" fill="none"/>
<text x="58.80" y="897.30" font-family="'Liberation Serif', serif" font-size="15.50" text-anchor="end" font-weight="normal" font-style="normal" fill="#000" >&#8722;4</text>
<text x="58.80" y="844.90" font-family="'Liberation Serif', serif" font-size="15.50" text-anchor="end" font-weight="normal" font-style="normal" fill="#000" >&#8722;2</text>
<text x="58.80" y="792.50" font-family="'Liberation Serif', serif" font-size="15.50" text-anchor="end" font-weight="normal" font-style="normal" fill="#000" >0</text>
<text x="58.80" y="740.10" font-family="'Liberation Serif', serif" font-size="15.50" text-anchor="end" font-weight="normal" font-style="normal" fill="#000" >2</text>
<text x="58.80" y="687.70" font-family="'Liberation Serif', serif" font-size="15.50" text-anchor="end" font-weight="normal" font-style="normal" fill="#000" >4</text>
<text x="83.00" y="934.00" font-family="'Liberation Serif', serif" font-size="15.50" text-anchor="middle" font-weight="normal" font-style="normal" fill="#000" >&#8722;10</text>
<text x="137.70" y="934.00" font-family="'Liberation Serif', serif" font-size="15.50" text-anchor="middle" font-weight="normal" font-style="normal" fill="#000" >&#8722;5</text>
<text x="192.40" y="934.00" font-family="'Liberation Serif', serif" font-size="15.50" text-anchor="middle" font-weight="normal" font-style="normal" fill="#000" >0</text>
<text x="247.10" y="934.00" font-family="'Liberation Serif', serif" font-size="15.50" text-anchor="middle" font-weight="normal" font-style="normal" fill="#000" >5</text>
<text x="301.80" y="934.00" font-family="'Liberation Serif', serif" font-size="15.50" text-anchor="middle" font-weight="normal" font-style="normal" fill="#000" >10</text>
<line x1="70.50" y1="825.60" x2="86.00" y2="825.60" stroke="#22b022" stroke-width="1.5"/>
<text x="91.00" y="829.00" font-family="'Liberation Serif', serif" font-size="12.80" font-style="italic" textLength="27.20" lengthAdjust="spacingAndGlyphs">&#916;=10</text>
<text x="121.30" y="829.00" font-family="'Liberation Serif', serif" font-size="12.80" textLength="29.80" lengthAdjust="spacingAndGlyphs">meV,</text>
<text x="155.00" y="829.00" font-family="'Liberation Serif', serif" font-size="12.80" font-style="italic" textLength="29.80" lengthAdjust="spacingAndGlyphs">N=10</text>
<line x1="70.50" y1="840.20" x2="86.00" y2="840.20" stroke="#1f1fff" stroke-width="1.5"/>
<text x="91.00" y="843.60" font-family="'Liberation Serif', serif" font-size="12.80" font-style="italic" textLength="27.20" lengthAdjust="spacingAndGlyphs">&#916;=10</text>
<text x="121.30" y="843.60" font-family="'Liberation Serif', serif" font-size="12.80" textLength="29.80" lengthAdjust="spacingAndGlyphs">meV,</text>
<text x="155.00" y="843.60" font-family="'Liberation Serif', serif" font-size="12.80" font-style="italic" textLength="22.20" lengthAdjust="spacingAndGlyphs">N=6</text>
<line x1="70.50" y1="854.80" x2="86.00" y2="854.80" stroke="#000" stroke-width="1.5"/>
<text x="91.00" y="858.20" font-family="'Liberation Serif', serif" font-size="12.80" font-style="italic" textLength="27.20" lengthAdjust="spacingAndGlyphs">&#916;=10</text>
<text x="121.30" y="858.20" font-family="'Liberation Serif', serif" font-size="12.80" textLength="29.80" lengthAdjust="spacingAndGlyphs">meV,</text>
<text x="155.00" y="858.20" font-family="'Liberation Serif', serif" font-size="12.80" font-style="italic" textLength="22.20" lengthAdjust="spacingAndGlyphs">N=5</text>
<line x1="70.50" y1="869.70" x2="86.00" y2="869.70" stroke="#ff1f1f" stroke-width="1.5"/>
<text x="91.00" y="873.10" font-family="'Liberation Serif', serif" font-size="12.80" font-style="italic" textLength="27.20" lengthAdjust="spacingAndGlyphs">&#916;=10</text>
<text x="121.30" y="873.10" font-family="'Liberation Serif', serif" font-size="12.80" textLength="29.80" lengthAdjust="spacingAndGlyphs">meV,</text>
<text x="155.00" y="873.10" font-family="'Liberation Serif', serif" font-size="12.80" font-style="italic" textLength="22.20" lengthAdjust="spacingAndGlyphs">N=4</text>
<line x1="70.50" y1="884.50" x2="86.00" y2="884.50" stroke="#ff8c1a" stroke-width="1.5"/>
<text x="91.00" y="887.90" font-family="'Liberation Serif', serif" font-size="12.80" font-style="italic" textLength="27.20" lengthAdjust="spacingAndGlyphs">&#916;=10</text>
<text x="121.30" y="887.90" font-family="'Liberation Serif', serif" font-size="12.80" textLength="29.80" lengthAdjust="spacingAndGlyphs">meV,</text>
<text x="155.00" y="887.90" font-family="'Liberation Serif', serif" font-size="12.80" font-style="italic" textLength="22.20" lengthAdjust="spacingAndGlyphs">N=3</text>
<text x="127.40" y="959.60" font-family="'Liberation Serif', serif" font-size="20.00" font-style="italic" textLength="12.00" lengthAdjust="spacingAndGlyphs">n</text>
<text x="141.70" y="962.90" font-family="'Liberation Serif', serif" font-size="13.50" font-style="italic" textLength="6.00" lengthAdjust="spacingAndGlyphs">e</text>
<text x="154.30" y="959.10" font-family="'Liberation Serif', serif" font-size="18.50"  textLength="5.40" lengthAdjust="spacingAndGlyphs">(</text>
<text x="161.20" y="959.60" font-family="'Liberation Serif', serif" font-size="18.00" font-style="italic" textLength="17.20" lengthAdjust="spacingAndGlyphs">10</text>
<text x="183.00" y="953.10" font-family="'Liberation Serif', serif" font-size="14.00" font-style="italic" textLength="15.80" lengthAdjust="spacingAndGlyphs">12</text>
<text x="202.60" y="959.60" font-family="'Liberation Serif', serif" font-size="19.50"  textLength="26.60" lengthAdjust="spacingAndGlyphs">cm</text>
<text x="230.60" y="953.10" font-family="'Liberation Serif', serif" font-size="14.00"  textLength="14.60" lengthAdjust="spacingAndGlyphs">&#8722;2</text>
<text x="245.00" y="959.10" font-family="'Liberation Serif', serif" font-size="18.50"  textLength="7.40" lengthAdjust="spacingAndGlyphs">)</text>
<g transform="translate(29.70,865.70) rotate(-90)" font-family="'Liberation Serif', serif" fill="#000">
<text x="-0.5" y="0" font-size="23" font-style="italic">&#963;</text>
<text x="15.6" y="-9.6" font-size="15.5">A</text>
<text x="13.0" y="4.6" font-size="15" font-style="italic" textLength="19" lengthAdjust="spacingAndGlyphs">xy</text>
<path d="M36.3,5.9 L45.8,-17.6" stroke="#000" stroke-width="1.15"/>
<text x="46.0" y="0" font-size="24.5" font-style="italic" textLength="17.5" lengthAdjust="spacingAndGlyphs">B</text>
<text x="64.0" y="3.9" font-size="16" font-style="italic" textLength="8.2" lengthAdjust="spacingAndGlyphs">z</text>
<path d="M91.6,-27.2 Q75.0,-6 91.6,15.2 L92.0,14.9 Q78.2,-6 92.0,-26.9 Z" fill="#000"/>
<path d="M145.3,-27.2 Q161.9,-6 145.3,15.2 L144.9,14.9 Q158.7,-6 144.9,-26.9 Z" fill="#000"/>
<text x="95.3" y="-8.6" font-size="17.5">e</text>
<text x="104.3" y="-16.1" font-size="12.3">2</text>
<line x1="95.8" y1="-6" x2="112.6" y2="-6" stroke="#000" stroke-width="0.95"/>
<text x="99.6" y="8.3" font-size="17.5">h</text>
<path d="M117.2,5.9 L125.8,-17.6" stroke="#000" stroke-width="1.15"/>
<text x="127.6" y="0.3" font-size="25">T</text>
</g>
<line x1="414.50" y1="783.70" x2="667.50" y2="783.70" stroke="#888" stroke-width="1"/>
<clipPath id="clipf"><rect x="414.50" y="657.50" width="253.00" height="253.00"/></clipPath>
<g clip-path="url(#clipf)">
<path d="M419.90,780.00 C421.17,779.17 425.13,777.85 427.50,775.00 C429.87,772.15 432.52,766.40 434.10,762.90 C435.68,759.40 436.08,756.73 437.00,754.00 C437.92,751.27 439.17,747.75 439.60,746.50 L439.60,746.50 C440.13,745.95 441.82,744.20 442.80,743.20 C443.78,742.20 443.35,743.02 445.50,740.50 C447.65,737.98 451.57,733.20 455.70,728.10 C459.83,723.00 466.23,715.05 470.30,709.90 C474.37,704.75 476.65,701.50 480.10,697.20 C483.55,692.90 488.08,688.12 491.00,684.10 C493.92,680.08 495.85,675.73 497.60,673.10 C499.35,670.47 500.23,669.22 501.50,668.30 C502.77,667.38 504.03,667.33 505.20,667.60 C506.37,667.87 507.22,668.62 508.50,669.90 C509.78,671.18 511.07,673.48 512.90,675.30 C514.73,677.12 517.48,678.97 519.50,680.80 C521.52,682.63 523.18,683.57 525.00,686.30 C526.82,689.03 528.58,692.82 530.40,697.20 C532.22,701.58 534.45,707.97 535.90,712.60 C537.35,717.23 538.37,721.13 539.10,725.00 C539.83,728.87 540.10,734.00 540.30,735.80 L540.30,735.80 C540.45,743.88 541.05,776.22 541.20,784.30 L541.20,784.30 C544.33,784.42 555.05,784.62 560.00,785.00 C564.95,785.38 567.05,785.65 570.90,786.60 C574.75,787.55 579.70,789.17 583.10,790.70 C586.50,792.23 588.57,793.08 591.30,795.80 C594.03,798.52 596.77,802.07 599.50,807.00 C602.23,811.93 604.98,819.62 607.70,825.40 C610.42,831.18 613.42,836.93 615.80,841.70 C618.18,846.47 620.12,850.25 622.00,854.00 C623.88,857.75 625.57,863.18 627.10,864.20 C628.63,865.22 629.67,863.85 631.20,860.10 C632.73,856.35 634.43,848.85 636.30,841.70 C638.17,834.55 640.70,823.67 642.40,817.20 C644.10,810.73 645.07,806.65 646.50,802.90 C647.93,799.15 650.25,796.07 651.00,794.70" stroke="#22b022" stroke-width="1.50" fill="none" stroke-linejoin="round" stroke-linecap="round"/>
<path d="M454.90,783.10 C456.90,782.65 463.43,781.40 466.90,780.40 C470.37,779.40 471.68,778.55 475.70,777.10 C479.72,775.65 486.62,773.77 491.00,771.70 C495.38,769.63 499.08,766.45 502.00,764.70 C504.92,762.95 506.50,761.50 508.50,761.20 C510.50,760.90 512.08,762.27 514.00,762.90 C515.92,763.53 517.90,764.62 520.00,765.00 C522.10,765.38 524.53,765.65 526.60,765.20 C528.67,764.75 530.87,763.62 532.40,762.30 C533.93,760.98 534.90,759.52 535.80,757.30 C536.70,755.08 537.25,751.48 537.80,749.00 C538.35,746.52 538.68,744.60 539.10,742.40 C539.52,740.20 540.10,736.90 540.30,735.80 L540.30,735.80 C540.45,743.88 541.05,776.22 541.20,784.30 L541.20,784.30 C543.00,784.58 548.42,785.12 552.00,786.00 C555.58,786.88 559.55,787.80 562.70,789.60 C565.85,791.40 568.35,793.57 570.90,796.80 C573.45,800.03 575.90,805.87 578.00,809.00 C580.10,812.13 581.62,815.25 583.50,815.60 C585.38,815.95 587.32,813.55 589.30,811.10 C591.28,808.65 592.68,804.30 595.40,800.90 C598.12,797.50 602.20,793.08 605.60,790.70 C609.00,788.32 611.88,787.57 615.80,786.60 C619.72,785.63 626.88,785.18 629.10,784.90" stroke="#1f1fff" stroke-width="1.50" fill="none" stroke-linejoin="round" stroke-linecap="round"/>
<path d="M469.10,783.10 C470.93,782.65 476.45,781.58 480.10,780.40 C483.75,779.22 487.35,777.45 491.00,776.00 C494.65,774.55 498.72,773.03 502.00,771.70 C505.28,770.37 507.78,768.37 510.70,768.00 C513.62,767.63 516.85,769.13 519.50,769.50 C522.15,769.87 524.45,770.57 526.60,770.20 C528.75,769.83 530.73,769.03 532.40,767.30 C534.07,765.57 535.55,762.43 536.60,759.80 C537.65,757.17 538.15,754.95 538.70,751.50 C539.25,748.05 539.63,741.72 539.90,739.10 C540.17,736.48 540.23,736.35 540.30,735.80 L540.30,735.80 C540.45,743.88 541.05,776.22 541.20,784.30 L541.20,784.30 C542.67,784.50 547.10,784.78 550.00,785.50 C552.90,786.22 556.15,787.07 558.60,788.60 C561.05,790.13 562.82,791.63 564.70,794.70 C566.58,797.77 568.47,804.03 569.90,807.00 C571.33,809.97 572.12,811.98 573.30,812.50 C574.48,813.02 575.37,812.03 577.00,810.10 C578.63,808.17 580.72,803.80 583.10,800.90 C585.48,798.00 587.88,795.08 591.30,792.70 C594.72,790.32 598.83,787.90 603.60,786.60 C608.37,785.30 617.18,785.18 619.90,784.90" stroke="#000" stroke-width="1.50" fill="none" stroke-linejoin="round" stroke-linecap="round"/>
<path d="M487.70,783.10 C489.35,782.47 494.85,780.48 497.60,779.30 C500.35,778.12 502.02,776.98 504.20,776.00 C506.38,775.02 508.15,773.70 510.70,773.40 C513.25,773.10 516.85,774.03 519.50,774.20 C522.15,774.37 524.45,774.85 526.60,774.40 C528.75,773.95 530.73,773.37 532.40,771.50 C534.07,769.63 535.52,766.25 536.60,763.20 C537.68,760.15 538.35,756.95 538.90,753.20 C539.45,749.45 539.67,743.60 539.90,740.70 C540.13,737.80 540.23,736.62 540.30,735.80 L540.30,735.80 C540.45,743.88 541.05,776.22 541.20,784.30 L541.20,784.30 C542.37,784.65 546.62,785.63 548.20,786.40 C549.78,787.17 549.98,787.85 550.70,788.90 C551.42,789.95 551.52,790.20 552.50,792.70 C553.48,795.20 555.23,800.77 556.60,803.90 C557.97,807.03 559.35,810.65 560.70,811.50 C562.05,812.35 563.00,811.12 564.70,809.00 C566.40,806.88 568.52,801.85 570.90,798.80 C573.28,795.75 575.60,792.80 579.00,790.70 C582.40,788.60 586.52,787.23 591.30,786.20 C596.08,785.17 604.97,784.78 607.70,784.50" stroke="#ff1f1f" stroke-width="1.50" fill="none" stroke-linejoin="round" stroke-linecap="round"/>
<path d="M508.50,782.20 C509.58,781.67 513.08,779.62 515.00,779.00 C516.92,778.38 518.33,778.93 520.00,778.50 C521.67,778.07 523.33,776.95 525.00,776.40 C526.67,775.85 528.48,776.17 530.00,775.20 C531.52,774.23 532.87,772.88 534.10,770.60 C535.33,768.32 536.50,765.10 537.40,761.50 C538.30,757.90 539.02,753.28 539.50,749.00 C539.98,744.72 540.17,738.00 540.30,735.80 L540.30,735.80 C540.40,743.83 540.75,773.30 540.90,784.00 C541.05,794.70 541.15,797.33 541.20,800.00 L541.20,800.00 C541.38,801.67 541.62,806.78 542.30,810.00 C542.98,813.22 544.28,818.10 545.30,819.30 C546.32,820.50 547.20,819.58 548.40,817.20 C549.60,814.82 550.80,809.08 552.50,805.00 C554.20,800.92 556.22,795.60 558.60,792.70 C560.98,789.80 563.40,788.87 566.80,787.60 C570.20,786.33 575.08,785.62 579.00,785.10 C582.92,784.58 588.42,784.60 590.30,784.50" stroke="#ff8c1a" stroke-width="1.60" fill="none" stroke-linejoin="round" stroke-linecap="round"/>
</g>
<rect x="414.50" y="657.50" width="253.00" height="253.00" fill="none" stroke="#8c8c8c" stroke-width="1.00"/>
<path d="M436.20,910.50v-3.20M436.20,657.50v3.20M488.70,910.50v-3.20M488.70,657.50v3.20M541.20,910.50v-3.20M541.20,657.50v3.20M593.70,910.50v-3.20M593.70,657.50v3.20M646.20,910.50v-3.20M646.20,657.50v3.20M415.20,910.50v-1.80M415.20,657.50v1.80M425.70,910.50v-1.80M425.70,657.50v1.80M446.70,910.50v-1.80M446.70,657.50v1.80M457.20,910.50v-1.80M457.20,657.50v1.80M467.70,910.50v-1.80M467.70,657.50v1.80M478.20,910.50v-1.80M478.20,657.50v1.80M499.20,910.50v-1.80M499.20,657.50v1.80M509.70,910.50v-1.80M509.70,657.50v1.80M520.20,910.50v-1.80M520.20,657.50v1.80M530.70,910.50v-1.80M530.70,657.50v1.80M551.70,910.50v-1.80M551.70,657.50v1.80M562.20,910.50v-1.80M562.20,657.50v1.80M572.70,910.50v-1.80M572.70,657.50v1.80M583.20,910.50v-1.80M583.20,657.50v1.80M604.20,910.50v-1.80M604.20,657.50v1.80M614.70,910.50v-1.80M614.70,657.50v1.80M625.20,910.50v-1.80M625.20,657.50v1.80M635.70,910.50v-1.80M635.70,657.50v1.80M656.70,910.50v-1.80M656.70,657.50v1.80M667.20,910.50v-1.80M667.20,657.50v1.80M414.50,910.10h3.20M667.50,910.10h-3.20M414.50,846.90h3.20M667.50,846.90h-3.20M414.50,783.70h3.20M667.50,783.70h-3.20M414.50,720.50h3.20M667.50,720.50h-3.20M414.50,657.30h3.20M667.50,657.30h-3.20M414.50,897.46h1.80M667.50,897.46h-1.80M414.50,884.82h1.80M667.50,884.82h-1.80M414.50,872.18h1.80M667.50,872.18h-1.80M414.50,859.54h1.80M667.50,859.54h-1.80M414.50,834.26h1.80M667.50,834.26h-1.80M414.50,821.62h1.80M667.50,821.62h-1.80M414.50,808.98h1.80M667.50,808.98h-1.80M414.50,796.34h1.80M667.50,796.34h-1.80M414.50,771.06h1.80M667.50,771.06h-1.80M414.50,758.42h1.80M667.50,758.42h-1.80M414.50,745.78h1.80M667.50,745.78h-1.80M414.50,733.14h1.80M667.50,733.14h-1.80M414.50,707.86h1.80M667.50,707.86h-1.80M414.50,695.22h1.80M667.50,695.22h-1.80M414.50,682.58h1.80M667.50,682.58h-1.80M414.50,669.94h1.80M667.50,669.94h-1.80" stroke="#8c8c8c" stroke-width="1.00" fill="none"/>
<text x="411.50" y="915.30" font-family="'Liberation Serif', serif" font-size="15.50" text-anchor="end" font-weight="normal" font-style="normal" fill="#000" >&#8722;2</text>
<text x="411.50" y="852.10" font-family="'Liberation Serif', serif" font-size="15.50" text-anchor="end" font-weight="normal" font-style="normal" fill="#000" >&#8722;1</text>
<text x="411.50" y="788.90" font-family="'Liberation Serif', serif" font-size="15.50" text-anchor="end" font-weight="normal" font-style="normal" fill="#000" >0</text>
<text x="411.50" y="725.70" font-family="'Liberation Serif', serif" font-size="15.50" text-anchor="end" font-weight="normal" font-style="normal" fill="#000" >1</text>
<text x="411.50" y="662.50" font-family="'Liberation Serif', serif" font-size="15.50" text-anchor="end" font-weight="normal" font-style="normal" fill="#000" >2</text>
<text x="436.20" y="926.50" font-family="'Liberation Serif', serif" font-size="15.50" text-anchor="middle" font-weight="normal" font-style="normal" fill="#000" >&#8722;10</text>
<text x="488.70" y="926.50" font-family="'Liberation Serif', serif" font-size="15.50" text-anchor="middle" font-weight="normal" font-style="normal" fill="#000" >&#8722;5</text>
<text x="541.20" y="926.50" font-family="'Liberation Serif', serif" font-size="15.50" text-anchor="middle" font-weight="normal" font-style="normal" fill="#000" >0</text>
<text x="593.70" y="926.50" font-family="'Liberation Serif', serif" font-size="15.50" text-anchor="middle" font-weight="normal" font-style="normal" fill="#000" >5</text>
<text x="646.20" y="926.50" font-family="'Liberation Serif', serif" font-size="15.50" text-anchor="middle" font-weight="normal" font-style="normal" fill="#000" >10</text>
<line x1="422.60" y1="820.60" x2="437.70" y2="820.60" stroke="#22b022" stroke-width="1.5"/>
<text x="442.20" y="824.40" font-family="'Liberation Serif', serif" font-size="12.80" font-style="italic" textLength="27.20" lengthAdjust="spacingAndGlyphs">&#916;=40</text>
<text x="472.20" y="824.40" font-family="'Liberation Serif', serif" font-size="12.80" textLength="29.20" lengthAdjust="spacingAndGlyphs">meV,</text>
<text x="504.40" y="824.40" font-family="'Liberation Serif', serif" font-size="12.80" font-style="italic" textLength="28.50" lengthAdjust="spacingAndGlyphs">N=10</text>
<line x1="422.60" y1="835.20" x2="437.70" y2="835.20" stroke="#1f1fff" stroke-width="1.5"/>
<text x="442.20" y="839.00" font-family="'Liberation Serif', serif" font-size="12.80" font-style="italic" textLength="27.20" lengthAdjust="spacingAndGlyphs">&#916;=40</text>
<text x="472.20" y="839.00" font-family="'Liberation Serif', serif" font-size="12.80" textLength="29.20" lengthAdjust="spacingAndGlyphs">meV,</text>
<text x="504.40" y="839.00" font-family="'Liberation Serif', serif" font-size="12.80" font-style="italic" textLength="22.20" lengthAdjust="spacingAndGlyphs">N=6</text>
<line x1="422.60" y1="849.60" x2="437.70" y2="849.60" stroke="#000" stroke-width="1.5"/>
<text x="442.20" y="853.40" font-family="'Liberation Serif', serif" font-size="12.80" font-style="italic" textLength="27.20" lengthAdjust="spacingAndGlyphs">&#916;=40</text>
<text x="472.20" y="853.40" font-family="'Liberation Serif', serif" font-size="12.80" textLength="29.20" lengthAdjust="spacingAndGlyphs">meV,</text>
<text x="504.40" y="853.40" font-family="'Liberation Serif', serif" font-size="12.80" font-style="italic" textLength="22.20" lengthAdjust="spacingAndGlyphs">N=5</text>
<line x1="422.60" y1="864.00" x2="437.70" y2="864.00" stroke="#ff1f1f" stroke-width="1.5"/>
<text x="442.20" y="867.80" font-family="'Liberation Serif', serif" font-size="12.80" font-style="italic" textLength="27.20" lengthAdjust="spacingAndGlyphs">&#916;=40</text>
<text x="472.20" y="867.80" font-family="'Liberation Serif', serif" font-size="12.80" textLength="29.20" lengthAdjust="spacingAndGlyphs">meV,</text>
<text x="504.40" y="867.80" font-family="'Liberation Serif', serif" font-size="12.80" font-style="italic" textLength="22.20" lengthAdjust="spacingAndGlyphs">N=4</text>
<line x1="422.60" y1="878.40" x2="437.70" y2="878.40" stroke="#ff8c1a" stroke-width="1.5"/>
<text x="442.20" y="882.20" font-family="'Liberation Serif', serif" font-size="12.80" font-style="italic" textLength="27.20" lengthAdjust="spacingAndGlyphs">&#916;=40</text>
<text x="472.20" y="882.20" font-family="'Liberation Serif', serif" font-size="12.80" textLength="29.20" lengthAdjust="spacingAndGlyphs">meV,</text>
<text x="504.40" y="882.20" font-family="'Liberation Serif', serif" font-size="12.80" font-style="italic" textLength="22.20" lengthAdjust="spacingAndGlyphs">N=3</text>
<text x="479.40" y="954.00" font-family="'Liberation Serif', serif" font-size="20.00" font-style="italic" textLength="12.00" lengthAdjust="spacingAndGlyphs">n</text>
<text x="493.70" y="957.30" font-family="'Liberation Serif', serif" font-size="13.50" font-style="italic" textLength="6.00" lengthAdjust="spacingAndGlyphs">e</text>
<text x="506.30" y="953.50" font-family="'Liberation Serif', serif" font-size="18.50"  textLength="5.40" lengthAdjust="spacingAndGlyphs">(</text>
<text x="513.20" y="954.00" font-family="'Liberation Serif', serif" font-size="18.00" font-style="italic" textLength="17.20" lengthAdjust="spacingAndGlyphs">10</text>
<text x="535.00" y="947.50" font-family="'Liberation Serif', serif" font-size="14.00" font-style="italic" textLength="15.80" lengthAdjust="spacingAndGlyphs">12</text>
<text x="554.60" y="954.00" font-family="'Liberation Serif', serif" font-size="19.50"  textLength="26.60" lengthAdjust="spacingAndGlyphs">cm</text>
<text x="582.60" y="947.50" font-family="'Liberation Serif', serif" font-size="14.00"  textLength="14.60" lengthAdjust="spacingAndGlyphs">&#8722;2</text>
<text x="597.00" y="953.50" font-family="'Liberation Serif', serif" font-size="18.50"  textLength="7.40" lengthAdjust="spacingAndGlyphs">)</text>
<g transform="translate(384.90,849.40) rotate(-90)" font-family="'Liberation Serif', serif" fill="#000">
<text x="-0.5" y="0" font-size="23" font-style="italic">&#963;</text>
<text x="15.6" y="-9.6" font-size="15.5">A</text>
<text x="13.0" y="4.6" font-size="15" font-style="italic" textLength="19" lengthAdjust="spacingAndGlyphs">xy</text>
<path d="M36.3,5.9 L45.8,-17.6" stroke="#000" stroke-width="1.15"/>
<text x="46.0" y="0" font-size="24.5" font-style="italic" textLength="17.5" lengthAdjust="spacingAndGlyphs">B</text>
<text x="64.0" y="3.9" font-size="16" font-style="italic" textLength="8.2" lengthAdjust="spacingAndGlyphs">z</text>
<path d="M91.6,-27.2 Q75.0,-6 91.6,15.2 L92.0,14.9 Q78.2,-6 92.0,-26.9 Z" fill="#000"/>
<path d="M145.3,-27.2 Q161.9,-6 145.3,15.2 L144.9,14.9 Q158.7,-6 144.9,-26.9 Z" fill="#000"/>
<text x="95.3" y="-8.6" font-size="17.5">e</text>
<text x="104.3" y="-16.1" font-size="12.3">2</text>
<line x1="95.8" y1="-6" x2="112.6" y2="-6" stroke="#000" stroke-width="0.95"/>
<text x="99.6" y="8.3" font-size="17.5">h</text>
<path d="M117.2,5.9 L125.8,-17.6" stroke="#000" stroke-width="1.15"/>
<text x="127.6" y="0.3" font-size="25">T</text>
</g>
<defs>
<radialGradient id="gr" cx="0.56" cy="0.42" r="0.72">
 <stop offset="0" stop-color="#ff5050"/><stop offset="0.3" stop-color="#ff0c0c"/><stop offset="0.72" stop-color="#e00000"/><stop offset="1" stop-color="#8a0000"/>
</radialGradient>
<radialGradient id="gb" cx="0.56" cy="0.42" r="0.72">
 <stop offset="0" stop-color="#4848ff"/><stop offset="0.25" stop-color="#0808f0"/><stop offset="0.7" stop-color="#0000c4"/><stop offset="1" stop-color="#000070"/>
</radialGradient>
</defs>
<line x1="81.30" y1="39.40" x2="87.70" y2="140.30" stroke="#38b038" stroke-width="3.00"/>
<line x1="81.60" y1="39.40" x2="88.00" y2="140.30" stroke="#78dc78" stroke-width="1.20"/>
<line x1="110.20" y1="18.90" x2="114.20" y2="108.60" stroke="#38b038" stroke-width="3.00"/>
<line x1="110.50" y1="18.90" x2="114.50" y2="108.60" stroke="#78dc78" stroke-width="1.20"/>
<line x1="183.00" y1="30.20" x2="183.80" y2="127.20" stroke="#38b038" stroke-width="3.00"/>
<line x1="183.30" y1="30.20" x2="184.10" y2="127.20" stroke="#78dc78" stroke-width="1.20"/>
<line x1="198.70" y1="11.20" x2="198.70" y2="98.20" stroke="#38b038" stroke-width="3.00"/>
<line x1="199.00" y1="11.20" x2="199.00" y2="98.20" stroke="#78dc78" stroke-width="1.20"/>
<line x1="31.50" y1="137.20" x2="39.60" y2="228.00" stroke="#38b038" stroke-width="3.00"/>
<line x1="31.80" y1="137.20" x2="39.90" y2="228.00" stroke="#78dc78" stroke-width="1.20"/>
<line x1="64.20" y1="106.60" x2="70.50" y2="188.20" stroke="#38b038" stroke-width="3.00"/>
<line x1="64.50" y1="106.60" x2="70.80" y2="188.20" stroke="#78dc78" stroke-width="1.20"/>
<line x1="128.50" y1="124.60" x2="132.30" y2="212.40" stroke="#38b038" stroke-width="3.00"/>
<line x1="128.80" y1="124.60" x2="132.60" y2="212.40" stroke="#78dc78" stroke-width="1.20"/>
<line x1="149.60" y1="96.20" x2="151.70" y2="175.80" stroke="#38b038" stroke-width="3.00"/>
<line x1="149.90" y1="96.20" x2="152.00" y2="175.80" stroke="#78dc78" stroke-width="1.20"/>
<line x1="205.80" y1="144.50" x2="205.40" y2="241.20" stroke="#38b038" stroke-width="3.00"/>
<line x1="206.10" y1="144.50" x2="205.70" y2="241.20" stroke="#78dc78" stroke-width="1.20"/>
<line x1="218.50" y1="112.90" x2="218.00" y2="198.20" stroke="#38b038" stroke-width="3.00"/>
<line x1="218.80" y1="112.90" x2="218.30" y2="198.20" stroke="#78dc78" stroke-width="1.20"/>
<line x1="163.90" y1="19.40" x2="167.40" y2="194.80" stroke="#20b0e8" stroke-width="2.50"/>
<line x1="164.20" y1="19.40" x2="167.70" y2="194.80" stroke="#90e4ff" stroke-width="1.00"/>
<line x1="128.50" y1="124.60" x2="167.40" y2="194.80" stroke="#e8d400" stroke-width="2.40"/>
<line x1="128.80" y1="124.60" x2="167.70" y2="194.80" stroke="#fff870" stroke-width="0.96"/>
<line x1="218.50" y1="112.90" x2="167.40" y2="194.80" stroke="#c8600c" stroke-width="2.40"/>
<line x1="218.80" y1="112.90" x2="167.70" y2="194.80" stroke="#f09040" stroke-width="0.96"/>
<line x1="105.80" y1="172.80" x2="70.50" y2="188.20" stroke="#a8886a" stroke-width="5.85"/>
<line x1="105.33" y1="171.73" x2="70.03" y2="187.13" stroke="#c4c8cc" stroke-width="2.93"/>
<line x1="105.05" y1="171.08" x2="69.75" y2="186.48" stroke="#b8c8d8" stroke-width="1.76"/>
<line x1="70.50" y1="188.20" x2="81.00" y2="208.70" stroke="#8a6448" stroke-width="5.85"/>
<line x1="71.54" y1="187.67" x2="82.04" y2="208.17" stroke="#a47c58" stroke-width="2.93"/>
<line x1="72.17" y1="187.35" x2="82.67" y2="207.85" stroke="#b08c68" stroke-width="1.76"/>
<line x1="81.00" y1="208.70" x2="39.60" y2="228.00" stroke="#a8886a" stroke-width="6.50"/>
<line x1="80.45" y1="207.52" x2="39.05" y2="226.82" stroke="#c4c8cc" stroke-width="3.25"/>
<line x1="80.12" y1="206.81" x2="38.72" y2="226.11" stroke="#b8c8d8" stroke-width="1.95"/>
<line x1="81.00" y1="208.70" x2="132.30" y2="212.40" stroke="#6f6284" stroke-width="6.50"/>
<line x1="81.09" y1="207.40" x2="132.39" y2="211.10" stroke="#b9b2bd" stroke-width="3.25"/>
<line x1="81.15" y1="206.63" x2="132.45" y2="210.33" stroke="#c0a48a" stroke-width="1.95"/>
<line x1="105.80" y1="172.80" x2="151.70" y2="175.80" stroke="#6f6284" stroke-width="5.85"/>
<line x1="105.88" y1="171.63" x2="151.78" y2="174.63" stroke="#b9b2bd" stroke-width="2.93"/>
<line x1="105.92" y1="170.93" x2="151.82" y2="173.93" stroke="#c0a48a" stroke-width="1.76"/>
<line x1="151.70" y1="175.80" x2="167.40" y2="194.80" stroke="#8a6448" stroke-width="5.85"/>
<line x1="152.60" y1="175.05" x2="168.30" y2="194.05" stroke="#a47c58" stroke-width="2.93"/>
<line x1="153.14" y1="174.61" x2="168.84" y2="193.61" stroke="#b08c68" stroke-width="1.76"/>
<line x1="167.40" y1="194.80" x2="218.00" y2="198.20" stroke="#6f6284" stroke-width="5.85"/>
<line x1="167.48" y1="193.63" x2="218.08" y2="197.03" stroke="#b9b2bd" stroke-width="2.93"/>
<line x1="167.53" y1="192.93" x2="218.13" y2="196.33" stroke="#c0a48a" stroke-width="1.76"/>
<line x1="167.40" y1="194.80" x2="132.30" y2="212.40" stroke="#a8886a" stroke-width="6.50"/>
<line x1="166.82" y1="193.64" x2="131.72" y2="211.24" stroke="#c4c8cc" stroke-width="3.25"/>
<line x1="166.47" y1="192.94" x2="131.37" y2="210.54" stroke="#b8c8d8" stroke-width="1.95"/>
<line x1="218.00" y1="198.20" x2="247.70" y2="181.90" stroke="#a8886a" stroke-width="5.85"/>
<line x1="217.44" y1="197.17" x2="247.14" y2="180.87" stroke="#c4c8cc" stroke-width="2.93"/>
<line x1="217.10" y1="196.56" x2="246.80" y2="180.26" stroke="#b8c8d8" stroke-width="1.76"/>
<line x1="218.00" y1="198.20" x2="240.60" y2="219.70" stroke="#8a6448" stroke-width="6.50"/>
<line x1="218.90" y1="197.26" x2="241.50" y2="218.76" stroke="#a47c58" stroke-width="3.25"/>
<line x1="219.43" y1="196.69" x2="242.03" y2="218.19" stroke="#b08c68" stroke-width="1.95"/>
<line x1="240.60" y1="219.70" x2="205.40" y2="241.20" stroke="#a8886a" stroke-width="6.50"/>
<line x1="239.92" y1="218.59" x2="204.72" y2="240.09" stroke="#c4c8cc" stroke-width="3.25"/>
<line x1="239.52" y1="217.92" x2="204.32" y2="239.42" stroke="#b8c8d8" stroke-width="1.95"/>
<line x1="132.30" y1="212.40" x2="148.20" y2="237.00" stroke="#8a6448" stroke-width="6.50"/>
<line x1="133.39" y1="211.69" x2="149.29" y2="236.29" stroke="#a47c58" stroke-width="3.25"/>
<line x1="134.05" y1="211.27" x2="149.95" y2="235.87" stroke="#b08c68" stroke-width="1.95"/>
<line x1="148.20" y1="237.00" x2="205.40" y2="241.20" stroke="#6f6284" stroke-width="6.76"/>
<line x1="148.30" y1="235.65" x2="205.50" y2="239.85" stroke="#b9b2bd" stroke-width="3.38"/>
<line x1="148.36" y1="234.84" x2="205.56" y2="239.04" stroke="#c0a48a" stroke-width="2.03"/>
<line x1="64.20" y1="106.60" x2="114.20" y2="108.60" stroke="#6f6284" stroke-width="5.46"/>
<line x1="64.24" y1="105.51" x2="114.24" y2="107.51" stroke="#b9b2bd" stroke-width="2.73"/>
<line x1="64.27" y1="104.85" x2="114.27" y2="106.85" stroke="#c0a48a" stroke-width="1.64"/>
<line x1="114.20" y1="108.60" x2="149.60" y2="96.20" stroke="#a8886a" stroke-width="5.46"/>
<line x1="113.84" y1="107.57" x2="149.24" y2="95.17" stroke="#c4c8cc" stroke-width="2.73"/>
<line x1="113.62" y1="106.95" x2="149.02" y2="94.55" stroke="#b8c8d8" stroke-width="1.64"/>
<line x1="114.20" y1="108.60" x2="128.50" y2="124.60" stroke="#8a6448" stroke-width="5.85"/>
<line x1="115.07" y1="107.82" x2="129.37" y2="123.82" stroke="#a47c58" stroke-width="2.93"/>
<line x1="115.60" y1="107.35" x2="129.90" y2="123.35" stroke="#b08c68" stroke-width="1.76"/>
<line x1="31.50" y1="137.20" x2="87.70" y2="140.30" stroke="#6f6284" stroke-width="6.24"/>
<line x1="31.57" y1="135.95" x2="87.77" y2="139.05" stroke="#b9b2bd" stroke-width="3.12"/>
<line x1="31.61" y1="135.21" x2="87.81" y2="138.31" stroke="#c0a48a" stroke-width="1.87"/>
<line x1="87.70" y1="140.30" x2="128.50" y2="124.60" stroke="#a8886a" stroke-width="6.24"/>
<line x1="87.25" y1="139.14" x2="128.05" y2="123.44" stroke="#c4c8cc" stroke-width="3.12"/>
<line x1="86.98" y1="138.44" x2="127.78" y2="122.74" stroke="#b8c8d8" stroke-width="1.87"/>
<line x1="128.50" y1="124.60" x2="183.80" y2="127.20" stroke="#6f6284" stroke-width="5.98"/>
<line x1="128.56" y1="123.41" x2="183.86" y2="126.01" stroke="#b9b2bd" stroke-width="2.99"/>
<line x1="128.59" y1="122.69" x2="183.89" y2="125.29" stroke="#c0a48a" stroke-width="1.79"/>
<line x1="149.60" y1="96.20" x2="198.70" y2="98.20" stroke="#6f6284" stroke-width="5.46"/>
<line x1="149.64" y1="95.11" x2="198.74" y2="97.11" stroke="#b9b2bd" stroke-width="2.73"/>
<line x1="149.67" y1="94.45" x2="198.77" y2="96.45" stroke="#c0a48a" stroke-width="1.64"/>
<line x1="198.70" y1="98.20" x2="218.50" y2="112.90" stroke="#8a6448" stroke-width="5.85"/>
<line x1="199.40" y1="97.26" x2="219.20" y2="111.96" stroke="#a47c58" stroke-width="2.93"/>
<line x1="199.82" y1="96.70" x2="219.62" y2="111.40" stroke="#b08c68" stroke-width="1.76"/>
<line x1="183.80" y1="127.20" x2="218.50" y2="112.90" stroke="#a8886a" stroke-width="5.98"/>
<line x1="183.34" y1="126.09" x2="218.04" y2="111.79" stroke="#c4c8cc" stroke-width="2.99"/>
<line x1="183.07" y1="125.43" x2="217.77" y2="111.13" stroke="#b8c8d8" stroke-width="1.79"/>
<line x1="183.80" y1="127.20" x2="205.80" y2="144.50" stroke="#8a6448" stroke-width="6.24"/>
<line x1="184.57" y1="126.22" x2="206.57" y2="143.52" stroke="#a47c58" stroke-width="3.12"/>
<line x1="185.03" y1="125.63" x2="207.03" y2="142.93" stroke="#b08c68" stroke-width="1.87"/>
<line x1="218.50" y1="112.90" x2="254.00" y2="114.50" stroke="#6f6284" stroke-width="5.72"/>
<line x1="218.55" y1="111.76" x2="254.05" y2="113.36" stroke="#b9b2bd" stroke-width="2.86"/>
<line x1="218.58" y1="111.07" x2="254.08" y2="112.67" stroke="#c0a48a" stroke-width="1.72"/>
<line x1="205.80" y1="144.50" x2="245.50" y2="149.20" stroke="#6f6284" stroke-width="6.24"/>
<line x1="205.95" y1="143.26" x2="245.65" y2="147.96" stroke="#b9b2bd" stroke-width="3.12"/>
<line x1="206.03" y1="142.52" x2="245.73" y2="147.22" stroke="#c0a48a" stroke-width="1.87"/>
<line x1="51.00" y1="110.70" x2="64.20" y2="106.60" stroke="#a8886a" stroke-width="4.94"/>
<line x1="50.71" y1="109.76" x2="63.91" y2="105.66" stroke="#c4c8cc" stroke-width="2.47"/>
<line x1="50.53" y1="109.19" x2="63.73" y2="105.09" stroke="#b8c8d8" stroke-width="1.48"/>
<line x1="20.50" y1="139.20" x2="31.50" y2="137.20" stroke="#a8886a" stroke-width="5.20"/>
<line x1="20.31" y1="138.18" x2="31.31" y2="136.18" stroke="#c4c8cc" stroke-width="2.60"/>
<line x1="20.20" y1="137.56" x2="31.20" y2="135.56" stroke="#b8c8d8" stroke-width="1.56"/>
<line x1="130.00" y1="173.50" x2="151.70" y2="175.80" stroke="#6f6284" stroke-width="5.46"/>
<line x1="130.12" y1="172.41" x2="151.82" y2="174.71" stroke="#b9b2bd" stroke-width="2.73"/>
<line x1="130.18" y1="171.76" x2="151.88" y2="174.06" stroke="#c0a48a" stroke-width="1.64"/>
<line x1="97.10" y1="9.60" x2="110.20" y2="18.90" stroke="#8a6448" stroke-width="4.94"/>
<line x1="97.67" y1="8.79" x2="110.77" y2="18.09" stroke="#a47c58" stroke-width="2.47"/>
<line x1="98.02" y1="8.31" x2="111.12" y2="17.61" stroke="#b08c68" stroke-width="1.48"/>
<line x1="69.00" y1="27.70" x2="110.20" y2="18.90" stroke="#a8886a" stroke-width="4.94"/>
<line x1="68.79" y1="26.73" x2="109.99" y2="17.93" stroke="#c4c8cc" stroke-width="2.47"/>
<line x1="68.67" y1="26.15" x2="109.87" y2="17.35" stroke="#b8c8d8" stroke-width="1.48"/>
<line x1="69.00" y1="27.70" x2="81.30" y2="39.40" stroke="#8a6448" stroke-width="5.46"/>
<line x1="69.75" y1="26.91" x2="82.05" y2="38.61" stroke="#a47c58" stroke-width="2.73"/>
<line x1="70.20" y1="26.43" x2="82.50" y2="38.13" stroke="#b08c68" stroke-width="1.64"/>
<line x1="81.30" y1="39.40" x2="142.00" y2="39.90" stroke="#6f6284" stroke-width="5.72"/>
<line x1="81.31" y1="38.26" x2="142.01" y2="38.76" stroke="#b9b2bd" stroke-width="2.86"/>
<line x1="81.32" y1="37.57" x2="142.02" y2="38.07" stroke="#c0a48a" stroke-width="1.72"/>
<line x1="142.00" y1="39.90" x2="183.00" y2="30.20" stroke="#a8886a" stroke-width="5.72"/>
<line x1="141.74" y1="38.79" x2="182.74" y2="29.09" stroke="#c4c8cc" stroke-width="2.86"/>
<line x1="141.58" y1="38.12" x2="182.58" y2="28.42" stroke="#b8c8d8" stroke-width="1.72"/>
<line x1="163.90" y1="19.40" x2="198.70" y2="11.20" stroke="#a8886a" stroke-width="5.07"/>
<line x1="163.67" y1="18.41" x2="198.47" y2="10.21" stroke="#c4c8cc" stroke-width="2.54"/>
<line x1="163.53" y1="17.82" x2="198.33" y2="9.62" stroke="#b8c8d8" stroke-width="1.52"/>
<line x1="163.90" y1="19.40" x2="183.00" y2="30.20" stroke="#8a6448" stroke-width="5.20"/>
<line x1="164.41" y1="18.49" x2="183.51" y2="29.29" stroke="#a47c58" stroke-width="2.60"/>
<line x1="164.72" y1="17.95" x2="183.82" y2="28.75" stroke="#b08c68" stroke-width="1.56"/>
<line x1="198.70" y1="11.20" x2="250.80" y2="12.30" stroke="#6f6284" stroke-width="5.07"/>
<line x1="198.72" y1="10.19" x2="250.82" y2="11.29" stroke="#b9b2bd" stroke-width="2.54"/>
<line x1="198.73" y1="9.58" x2="250.83" y2="10.68" stroke="#c0a48a" stroke-width="1.52"/>
<line x1="183.00" y1="30.20" x2="242.60" y2="30.70" stroke="#6f6284" stroke-width="5.59"/>
<line x1="183.01" y1="29.08" x2="242.61" y2="29.58" stroke="#b9b2bd" stroke-width="2.79"/>
<line x1="183.02" y1="28.41" x2="242.62" y2="28.91" stroke="#c0a48a" stroke-width="1.68"/>
<line x1="110.20" y1="18.90" x2="163.90" y2="19.40" stroke="#6f6284" stroke-width="5.07"/>
<line x1="110.21" y1="17.89" x2="163.91" y2="18.39" stroke="#b9b2bd" stroke-width="2.54"/>
<line x1="110.22" y1="17.28" x2="163.92" y2="17.78" stroke="#c0a48a" stroke-width="1.52"/>
<line x1="65.50" y1="9.60" x2="97.10" y2="9.60" stroke="#6f6284" stroke-width="4.68"/>
<line x1="65.50" y1="8.66" x2="97.10" y2="8.66" stroke="#b9b2bd" stroke-width="2.34"/>
<line x1="65.50" y1="8.10" x2="97.10" y2="8.10" stroke="#c0a48a" stroke-width="1.40"/>
<line x1="33.00" y1="27.40" x2="69.00" y2="27.70" stroke="#6f6284" stroke-width="4.94"/>
<line x1="33.01" y1="26.41" x2="69.01" y2="26.71" stroke="#b9b2bd" stroke-width="2.47"/>
<line x1="33.01" y1="25.82" x2="69.01" y2="26.12" stroke="#c0a48a" stroke-width="1.48"/>
<line x1="250.80" y1="12.30" x2="258.00" y2="17.00" stroke="#8a6448" stroke-width="4.68"/>
<line x1="251.31" y1="11.52" x2="258.51" y2="16.22" stroke="#a47c58" stroke-width="2.34"/>
<line x1="251.62" y1="11.05" x2="258.82" y2="15.75" stroke="#b08c68" stroke-width="1.40"/>
<line x1="242.60" y1="30.70" x2="250.00" y2="35.50" stroke="#8a6448" stroke-width="4.94"/>
<line x1="243.14" y1="29.87" x2="250.54" y2="34.67" stroke="#a47c58" stroke-width="2.47"/>
<line x1="243.46" y1="29.37" x2="250.86" y2="34.17" stroke="#b08c68" stroke-width="1.48"/>
<circle cx="97.10" cy="9.60" r="8.00" fill="url(#gb)"/>
<circle cx="198.70" cy="11.20" r="9.00" fill="url(#gr)"/>
<circle cx="250.80" cy="12.30" r="9.00" fill="url(#gb)"/>
<circle cx="110.20" cy="18.90" r="9.00" fill="url(#gr)"/>
<circle cx="163.90" cy="19.40" r="9.20" fill="url(#gb)"/>
<circle cx="69.00" cy="27.70" r="9.10" fill="url(#gb)"/>
<circle cx="183.00" cy="30.20" r="10.00" fill="url(#gr)"/>
<circle cx="242.60" cy="30.70" r="10.00" fill="url(#gb)"/>
<circle cx="81.30" cy="39.40" r="10.30" fill="url(#gr)"/>
<circle cx="142.00" cy="39.90" r="10.40" fill="url(#gb)"/>
<circle cx="149.60" cy="96.20" r="8.00" fill="url(#gr)"/>
<circle cx="198.70" cy="98.20" r="9.00" fill="url(#gb)"/>
<circle cx="64.20" cy="106.60" r="8.20" fill="url(#gr)"/>
<circle cx="114.20" cy="108.60" r="9.00" fill="url(#gb)"/>
<circle cx="218.50" cy="112.90" r="9.20" fill="url(#gr)"/>
<circle cx="128.50" cy="124.60" r="9.50" fill="url(#gr)"/>
<circle cx="183.80" cy="127.20" r="10.00" fill="url(#gb)"/>
<circle cx="31.50" cy="137.20" r="10.00" fill="url(#gr)"/>
<circle cx="87.70" cy="140.30" r="10.00" fill="url(#gb)"/>
<circle cx="205.80" cy="144.50" r="10.30" fill="url(#gr)"/>
<circle cx="105.80" cy="172.80" r="7.90" fill="url(#gr)"/>
<circle cx="151.70" cy="175.80" r="8.00" fill="url(#gb)"/>
<circle cx="247.70" cy="181.90" r="8.00" fill="url(#gr)"/>
<circle cx="70.50" cy="188.20" r="8.70" fill="url(#gb)"/>
<circle cx="167.40" cy="194.80" r="8.50" fill="url(#gr)"/>
<circle cx="218.00" cy="198.20" r="9.00" fill="url(#gb)"/>
<circle cx="81.00" cy="208.70" r="9.30" fill="url(#gr)"/>
<circle cx="132.30" cy="212.40" r="9.20" fill="url(#gb)"/>
<circle cx="240.60" cy="219.70" r="9.20" fill="url(#gr)"/>
<circle cx="39.60" cy="228.00" r="10.20" fill="url(#gb)"/>
<circle cx="148.20" cy="237.00" r="10.00" fill="url(#gr)"/>
<circle cx="205.40" cy="241.20" r="10.00" fill="url(#gb)"/>
<line x1="251.80" y1="12.30" x2="256.30" y2="14.80" stroke="#9a6040" stroke-width="3.6" stroke-linecap="round"/>
<line x1="243.60" y1="30.70" x2="248.10" y2="34.20" stroke="#9a6040" stroke-width="3.6" stroke-linecap="round"/>
<text x="104.90" y="69.80" font-family="'Liberation Serif', serif" font-size="20" font-style="italic" textLength="8.6" lengthAdjust="spacingAndGlyphs" fill="#000">&#947;</text>
<text x="114.10" y="73.50" font-family="'Liberation Serif', serif" font-size="15.3" fill="#000">1</text>
<text x="156.60" y="71.60" font-family="'Liberation Serif', serif" font-size="20" font-style="italic" textLength="8.6" lengthAdjust="spacingAndGlyphs" fill="#000">&#947;</text>
<text x="166.40" y="77.70" font-family="'Liberation Serif', serif" font-size="15.3" fill="#000">2</text>
<text x="134.60" y="158.40" font-family="'Liberation Serif', serif" font-size="20" font-style="italic" textLength="8.6" lengthAdjust="spacingAndGlyphs" fill="#000">&#947;</text>
<text x="142.20" y="161.10" font-family="'Liberation Serif', serif" font-size="15.3" fill="#000">3</text>
<text x="183.80" y="173.80" font-family="'Liberation Serif', serif" font-size="20" font-style="italic" textLength="8.6" lengthAdjust="spacingAndGlyphs" fill="#000">&#947;</text>
<text x="191.70" y="176.80" font-family="'Liberation Serif', serif" font-size="15.3" fill="#000">4</text>
<text x="182.90" y="210.00" font-family="'Liberation Serif', serif" font-size="20" font-style="italic" textLength="8.6" lengthAdjust="spacingAndGlyphs" fill="#000">&#947;</text>
<text x="190.80" y="213.50" font-family="'Liberation Serif', serif" font-size="15.3" fill="#000">0</text>
<line x1="136.28" y1="138.64" x2="161.95" y2="184.97" stroke="#e8d400" stroke-width="2.4"/>
<line x1="136.58" y1="138.64" x2="162.25" y2="184.97" stroke="#fff870" stroke-width="0.96"/>
<defs>
<linearGradient id="upg" gradientUnits="userSpaceOnUse" x1="0" y1="44" x2="0" y2="168">
 <stop offset="0" stop-color="#9c2cb4"/>
 <stop offset="0.25" stop-color="#8a2cbc"/>
 <stop offset="0.45" stop-color="#6a34cc"/>
 <stop offset="0.62" stop-color="#4a58e0"/>
 <stop offset="0.77" stop-color="#4a90e0"/>
 <stop offset="0.88" stop-color="#58b4c4"/>
 <stop offset="1" stop-color="#88d098"/>
</linearGradient>
<radialGradient id="upd" gradientUnits="userSpaceOnUse" cx="484" cy="124" r="55">
 <stop offset="0" stop-color="#5a8cff" stop-opacity="0.95"/>
 <stop offset="0.5" stop-color="#4a50e8" stop-opacity="0.5"/>
 <stop offset="1" stop-color="#4a40e0" stop-opacity="0"/>
</radialGradient>
<linearGradient id="uptip" gradientUnits="userSpaceOnUse" x1="520" y1="95" x2="596" y2="95">
 <stop offset="0" stop-color="#4a20b0" stop-opacity="0"/>
 <stop offset="1" stop-color="#4a1ca8" stop-opacity="0.7"/>
</linearGradient>
<radialGradient id="greenf" gradientUnits="userSpaceOnUse" cx="0" cy="0" r="1" gradientTransform="translate(478,160) scale(95,40)">
 <stop offset="0" stop-color="#94d488"/>
 <stop offset="0.45" stop-color="#88cc90"/>
 <stop offset="0.75" stop-color="#68b4a8"/>
 <stop offset="1" stop-color="#2f7c9c"/>
</radialGradient>
<linearGradient id="lowl" gradientUnits="userSpaceOnUse" x1="300" y1="250" x2="470" y2="170">
 <stop offset="0" stop-color="#b81c14"/>
 <stop offset="0.25" stop-color="#c84420"/>
 <stop offset="0.55" stop-color="#cc7a2c"/>
 <stop offset="0.8" stop-color="#d8b038"/>
 <stop offset="1" stop-color="#f0d840"/>
</linearGradient>
<linearGradient id="lowol" gradientUnits="userSpaceOnUse" x1="360" y1="160" x2="395" y2="215">
 <stop offset="0" stop-color="#7a9a40" stop-opacity="0.0"/>
 <stop offset="0.25" stop-color="#7a9a40" stop-opacity="0.55"/>
 <stop offset="1" stop-color="#7a9a40" stop-opacity="0"/>
</linearGradient>
<linearGradient id="lowy" gradientUnits="userSpaceOnUse" x1="0" y1="165" x2="0" y2="205">
 <stop offset="0" stop-color="#b8d860"/>
 <stop offset="0.5" stop-color="#e8dc48"/>
 <stop offset="1" stop-color="#f4d040"/>
</linearGradient>
<linearGradient id="finr" gradientUnits="userSpaceOnUse" x1="500" y1="170" x2="600" y2="225">
 <stop offset="0" stop-color="#f0b840"/>
 <stop offset="0.5" stop-color="#f07828"/>
 <stop offset="1" stop-color="#e83018"/>
</linearGradient>
</defs>
<line x1="521.8" y1="35.3" x2="643.5" y2="88" stroke="#555" stroke-width="0.9"/>
<line x1="643.5" y1="88" x2="637" y2="222.6" stroke="#555" stroke-width="0.9"/>
<line x1="291.7" y1="253.9" x2="637" y2="222.6" stroke="#555" stroke-width="0.9"/>
<defs><radialGradient id="slabg" gradientUnits="userSpaceOnUse" cx="0" cy="0" r="1" gradientTransform="translate(497.7,193.4) rotate(8.17) scale(312.3,95.7)">
 <stop offset="0" stop-color="#f6de46"/><stop offset="0.1" stop-color="#f2d240"/><stop offset="0.2" stop-color="#e4b63a"/><stop offset="0.35" stop-color="#d69032"/><stop offset="0.5" stop-color="#cc6a2a"/><stop offset="0.65" stop-color="#c84c24"/><stop offset="0.8" stop-color="#c0301e"/><stop offset="1" stop-color="#b01c16"/>
</radialGradient>
<linearGradient id="olive" gradientUnits="userSpaceOnUse" x1="425" y1="150" x2="335" y2="210">
 <stop offset="0" stop-color="#6a9c50" stop-opacity="0.95"/><stop offset="0.35" stop-color="#7a9444" stop-opacity="0.75"/><stop offset="0.7" stop-color="#8a8038" stop-opacity="0.35"/><stop offset="1" stop-color="#8a7a38" stop-opacity="0"/>
</linearGradient>
<linearGradient id="olive2" gradientUnits="userSpaceOnUse" x1="0" y1="200" x2="0" y2="166">
 <stop offset="0" stop-color="#b0c858" stop-opacity="0"/><stop offset="0.5" stop-color="#a8c860" stop-opacity="0.45"/><stop offset="1" stop-color="#a0c868" stop-opacity="0.85"/>
</linearGradient>
</defs>
<path d="M288.60,227.00 C289.55,225.35 291.00,221.08 294.30,217.10 C297.60,213.12 302.17,208.17 308.40,203.10 C314.63,198.03 323.92,191.77 331.70,186.70 C339.48,181.63 347.32,177.17 355.10,172.70 C362.88,168.23 371.02,163.53 378.40,159.90 C385.78,156.27 390.80,154.22 399.40,150.90 C408.00,147.58 418.23,141.48 430.00,140.00 C441.77,138.52 457.50,139.00 470.00,142.00 C482.50,145.00 499.17,155.33 505.00,158.00 L520.0,165.0 L483.0,200.0 L302.5,242.3 L299.6,245.3 Z" fill="url(#slabg)"/>
<path d="M288.60,227.00 C289.55,225.35 291.00,221.08 294.30,217.10 C297.60,213.12 302.17,208.17 308.40,203.10 C314.63,198.03 323.92,191.77 331.70,186.70 C339.48,181.63 347.32,177.17 355.10,172.70 C362.88,168.23 371.02,163.53 378.40,159.90 C385.78,156.27 390.80,154.22 399.40,150.90 C408.00,147.58 418.23,141.48 430.00,140.00 C441.77,138.52 457.50,139.00 470.00,142.00 C482.50,145.00 499.17,155.33 505.00,158.00 L520.0,165.0 L483.0,200.0 L302.5,242.3 L299.6,245.3 Z" fill="url(#olive)"/>
<path d="M288.60,227.00 C289.55,225.35 291.00,221.08 294.30,217.10 C297.60,213.12 302.17,208.17 308.40,203.10 C314.63,198.03 323.92,191.77 331.70,186.70 C339.48,181.63 347.32,177.17 355.10,172.70 C362.88,168.23 371.02,163.53 378.40,159.90 C385.78,156.27 390.80,154.22 399.40,150.90 C408.00,147.58 424.90,141.82 430.00,140.00" fill="none" stroke="#c02418" stroke-width="1.6" stroke-opacity="0.85"/>
<path d="M302.50,242.30 C307.37,239.27 320.98,230.63 331.70,224.10 C342.42,217.57 357.07,209.33 366.80,203.10 C376.53,196.87 382.32,191.38 390.10,186.70 C397.88,182.02 404.35,178.12 413.50,175.00 C422.65,171.88 435.58,169.33 445.00,168.00 C454.42,166.67 461.93,167.23 470.00,167.00 C478.07,166.77 485.60,167.45 493.40,166.60 C501.20,165.75 512.90,162.68 516.80,161.90 L505.0,175.0 L483.1,202.8 L400.0,222.0 L325.9,238.7 L304.7,250.4 Z" fill="url(#slabg)"/>
<path d="M302.50,242.30 C307.37,239.27 320.98,230.63 331.70,224.10 C342.42,217.57 357.07,209.33 366.80,203.10 C376.53,196.87 382.32,191.38 390.10,186.70 C397.88,182.02 404.35,178.12 413.50,175.00 C422.65,171.88 435.58,169.33 445.00,168.00 C454.42,166.67 461.93,167.23 470.00,167.00 C478.07,166.77 485.60,167.45 493.40,166.60 C501.20,165.75 512.90,162.68 516.80,161.90 L505.0,175.0 L483.1,202.8 L400.0,222.0 L325.9,238.7 L304.7,250.4 Z" fill="url(#olive2)"/>
<path d="M302.50,242.30 C307.37,239.27 320.98,230.63 331.70,224.10 C342.42,217.57 357.07,209.33 366.80,203.10 C376.53,196.87 382.32,191.38 390.10,186.70 C397.88,182.02 404.35,178.12 413.50,175.00 C422.65,171.88 435.58,169.33 445.00,168.00 C454.42,166.67 461.93,167.23 470.00,167.00 C478.07,166.77 485.60,167.45 493.40,166.60 C501.20,165.75 512.90,162.68 516.80,161.90" fill="none" stroke="#4a4a4a" stroke-width="0.7"/>
<path d="M325.90,238.70 C330.75,235.30 344.30,225.02 355.00,218.30 C365.70,211.58 380.35,203.67 390.10,198.40 C399.85,193.13 404.07,189.47 413.50,186.70 C422.93,183.93 437.28,180.68 446.70,181.80 C456.12,182.92 463.93,189.90 470.00,193.40 C476.07,196.90 480.92,201.23 483.10,202.80 L400.0,225.0 L352.2,235.0 L328.8,248.2 Z" fill="url(#slabg)"/>
<path d="M325.90,238.70 C330.75,235.30 344.30,225.02 355.00,218.30 C365.70,211.58 380.35,203.67 390.10,198.40 C399.85,193.13 404.07,189.47 413.50,186.70 C422.93,183.93 437.28,180.68 446.70,181.80 C456.12,182.92 463.93,189.90 470.00,193.40 C476.07,196.90 480.92,201.23 483.10,202.80" fill="none" stroke="#4a4a4a" stroke-width="0.7"/>
<path d="M352.20,235.00 C356.57,232.02 368.18,223.20 378.40,217.10 C388.62,211.00 402.12,202.73 413.50,198.40 C424.88,194.07 437.28,191.17 446.70,191.10 C456.12,191.03 463.93,196.05 470.00,198.00 C476.07,199.95 480.92,202.00 483.10,202.80 L420.0,222.0 L378.4,234.3 L355.8,246.7 Z" fill="url(#slabg)"/>
<path d="M352.20,235.00 C356.57,232.02 368.18,223.20 378.40,217.10 C388.62,211.00 402.12,202.73 413.50,198.40 C424.88,194.07 437.28,191.17 446.70,191.10 C456.12,191.03 463.93,196.05 470.00,198.00 C476.07,199.95 480.92,202.00 483.10,202.80" fill="none" stroke="#4a4a4a" stroke-width="0.7"/>
<path d="M378.40,234.30 C382.30,231.43 394.03,221.65 401.80,217.10 C409.57,212.55 417.80,209.73 425.00,207.00 C432.20,204.27 438.33,201.70 445.00,200.70 C451.67,199.70 458.65,200.65 465.00,201.00 C471.35,201.35 480.08,202.50 483.10,202.80 L430.0,222.0 L405.0,230.0 L381.4,243.8 Z" fill="url(#slabg)"/>
<path d="M378.40,234.30 C382.30,231.43 394.03,221.65 401.80,217.10 C409.57,212.55 417.80,209.73 425.00,207.00 C432.20,204.27 438.33,201.70 445.00,200.70 C451.67,199.70 458.65,200.65 465.00,201.00 C471.35,201.35 480.08,202.50 483.10,202.80" fill="none" stroke="#4a4a4a" stroke-width="0.7"/>
<path d="M405.00,230.00 C408.37,227.85 418.53,220.62 425.20,217.10 C431.87,213.58 438.37,211.00 445.00,208.90 C451.63,206.80 458.65,205.52 465.00,204.50 C471.35,203.48 480.08,203.08 483.10,202.80 L440.0,222.0 L420.0,229.5 L407.6,240.9 Z" fill="url(#slabg)"/>
<path d="M405.00,230.00 C408.37,227.85 418.53,220.62 425.20,217.10 C431.87,213.58 438.37,211.00 445.00,208.90 C451.63,206.80 458.65,205.52 465.00,204.50 C471.35,203.48 480.08,203.08 483.10,202.80" fill="none" stroke="#4a4a4a" stroke-width="0.7"/>
<path d="M420.00,229.50 C422.50,227.58 429.17,221.25 435.00,218.00 C440.83,214.75 446.98,212.53 455.00,210.00 C463.02,207.47 478.42,204.00 483.10,202.80 L445.0,223.0 L430.0,229.0 L422.8,239.3 Z" fill="url(#slabg)"/>
<path d="M420.00,229.50 C422.50,227.58 429.17,221.25 435.00,218.00 C440.83,214.75 446.98,212.53 455.00,210.00 C463.02,207.47 478.42,204.00 483.10,202.80" fill="none" stroke="#4a4a4a" stroke-width="0.7"/>
<path d="M430.00,229.00 C432.50,227.50 439.17,223.17 445.00,220.00 C450.83,216.83 458.65,212.87 465.00,210.00 C471.35,207.13 480.08,204.00 483.10,202.80 L450.0,224.0 L437.0,229.5 L432.2,238.1 Z" fill="url(#slabg)"/>
<path d="M430.00,229.00 C432.50,227.50 439.17,223.17 445.00,220.00 C450.83,216.83 458.65,212.87 465.00,210.00 C471.35,207.13 480.08,204.00 483.10,202.80" fill="none" stroke="#4a4a4a" stroke-width="0.7"/>
<path d="M437.00,229.50 C440.00,227.58 447.32,222.45 455.00,218.00 C462.68,213.55 478.42,205.33 483.10,202.80 L472.6,211.5 L455.0,223.8 L446.3,232.6 L441.0,236.9 L439.2,236.9 Z" fill="url(#slabg)"/>
<path d="M437.00,229.50 C440.00,227.58 447.32,222.45 455.00,218.00 C462.68,213.55 478.42,205.33 483.10,202.80" fill="none" stroke="#4a4a4a" stroke-width="0.7"/>
<defs>
<linearGradient id="fin12" gradientUnits="userSpaceOnUse" x1="520" y1="160" x2="605" y2="223">
 <stop offset="0" stop-color="#b4cc50"/><stop offset="0.45" stop-color="#e0a83c"/><stop offset="0.75" stop-color="#ec6a28"/><stop offset="1" stop-color="#e83c1c"/></linearGradient>
<linearGradient id="fin3" gradientUnits="userSpaceOnUse" x1="485" y1="195" x2="585" y2="228">
 <stop offset="0" stop-color="#f4c440"/><stop offset="0.3" stop-color="#f29a34"/><stop offset="0.6" stop-color="#ec5024"/><stop offset="1" stop-color="#dc2a18"/></linearGradient>
<linearGradient id="rbody" gradientUnits="userSpaceOnUse" x1="0" y1="160" x2="0" y2="200">
 <stop offset="0" stop-color="#b8cc54"/><stop offset="0.6" stop-color="#d8c448"/><stop offset="1" stop-color="#ecc040"/></linearGradient>
</defs>
<polygon points="505,160 519.7,159.7 522,165 512,166.5 505,166.5" fill="#b8cc54"/>
<polygon points="483.10,202.80 483.74,203.02 484.38,203.25 485.02,203.47 485.66,203.70 486.30,203.92 486.95,204.14 487.59,204.37 488.23,204.59 488.87,204.82 489.51,205.04 490.15,205.26 490.79,205.49 491.43,205.71 492.07,205.93 492.71,206.16 493.36,206.38 494.00,206.61 494.64,206.83 495.28,207.05 495.92,207.28 496.56,207.50 497.20,207.72 497.84,207.95 498.49,208.16 499.13,208.38 499.78,208.58 500.43,208.79 501.08,208.98 501.73,209.18 502.38,209.37 503.03,209.56 503.68,209.75 504.33,209.95 504.98,210.14 505.63,210.34 506.27,210.55 506.92,210.77 507.56,210.99 508.20,211.23 508.83,211.48 509.45,211.75 510.07,212.03 510.67,212.33 511.27,212.66 511.86,212.99 512.44,213.35 513.01,213.72 513.57,214.10 514.12,214.50 514.66,214.91 515.19,215.33 515.71,215.77 516.23,216.21 516.73,216.67 517.23,217.13 517.71,217.60 518.19,218.08 518.67,218.57 519.13,219.06 519.60,219.56 520.05,220.06 520.50,220.58 520.93,221.10 521.35,221.63 521.75,222.18 522.16,222.72 522.55,223.28 522.94,223.83 523.32,224.40 523.69,224.96 524.07,225.53 524.44,226.10 524.80,226.67 525.17,227.24 525.53,227.82 525.89,228.39 526.26,228.96 526.62,229.53 527.00,230.10 520.00,228.50 505.00,218.00 490.00,208.00" fill="url(#fin3)"/>
<polygon points="483.10,202.80 483.85,202.94 484.61,203.08 485.36,203.22 486.12,203.36 486.88,203.49 487.63,203.63 488.39,203.77 489.14,203.91 489.90,204.05 490.65,204.19 491.41,204.33 492.16,204.47 492.91,204.61 493.67,204.75 494.42,204.90 495.18,205.04 495.93,205.19 496.68,205.33 497.44,205.48 498.19,205.63 498.94,205.78 499.69,205.94 500.45,206.09 501.20,206.24 501.95,206.39 502.71,206.53 503.46,206.67 504.22,206.80 504.97,206.94 505.73,207.08 506.48,207.22 507.24,207.36 507.99,207.51 508.74,207.66 509.49,207.83 510.24,208.00 510.99,208.19 511.73,208.38 512.47,208.60 513.20,208.83 513.92,209.08 514.64,209.36 515.35,209.65 516.05,209.96 516.74,210.29 517.43,210.62 518.12,210.97 518.79,211.34 519.46,211.72 520.12,212.11 520.76,212.53 521.40,212.96 522.03,213.40 522.64,213.87 523.23,214.35 523.82,214.85 524.39,215.36 524.94,215.89 525.48,216.44 526.00,217.00 526.49,217.60 526.96,218.21 527.40,218.83 527.82,219.48 528.23,220.13 528.61,220.79 528.99,221.46 529.36,222.13 529.72,222.81 530.07,223.49 530.41,224.18 530.75,224.87 531.09,225.56 531.42,226.25 531.75,226.94 532.08,227.64 532.41,228.33 532.74,229.02 533.10,229.70 533.10,229.70 532.69,229.02 532.26,228.34 531.83,227.67 531.39,226.99 530.93,226.33 530.47,225.67 529.99,225.01 529.50,224.37 529.00,223.74 528.49,223.11 527.96,222.50 527.42,221.90 526.87,221.31 526.30,220.74 525.71,220.18 525.11,219.64 524.48,219.11 523.83,218.61 523.16,218.14 522.47,217.68 521.78,217.24 521.07,216.82 520.35,216.41 519.63,216.02 518.90,215.64 518.16,215.27 517.42,214.92 516.68,214.58 515.93,214.26 515.18,213.95 514.42,213.65 513.66,213.37 512.90,213.10 512.14,212.84 511.37,212.60 510.60,212.38 510.67,212.33 510.07,212.03 509.45,211.75 508.83,211.48 508.20,211.23 507.56,210.99 506.92,210.77 506.27,210.55 505.63,210.34 504.98,210.14 504.33,209.95 503.68,209.75 503.03,209.56 502.38,209.37 501.73,209.18 501.08,208.98 500.43,208.79 499.78,208.58 499.13,208.38 498.49,208.16 497.84,207.95 497.20,207.72 496.56,207.50 495.92,207.28 495.28,207.05 494.64,206.83 494.00,206.61 493.36,206.38 492.71,206.16 492.07,205.93 491.43,205.71 490.79,205.49 490.15,205.26 489.51,205.04 488.87,204.82 488.23,204.59 487.59,204.37 486.95,204.14 486.30,203.92 485.66,203.70 485.02,203.47 484.38,203.25 483.74,203.02 483.10,202.80" fill="url(#fin3)"/>
<polygon points="483.10,202.80 483.96,202.85 484.83,202.89 485.69,202.93 486.55,202.98 487.42,203.02 488.28,203.06 489.15,203.10 490.01,203.14 490.87,203.19 491.74,203.23 492.60,203.27 493.46,203.32 494.33,203.37 495.19,203.42 496.05,203.46 496.92,203.52 497.78,203.57 498.64,203.63 499.51,203.69 500.37,203.75 501.23,203.82 502.09,203.89 502.95,203.96 503.82,204.04 504.68,204.11 505.54,204.19 506.40,204.26 507.26,204.32 508.12,204.39 508.99,204.46 509.85,204.53 510.71,204.60 511.57,204.68 512.43,204.77 513.29,204.86 514.15,204.96 515.01,205.07 515.86,205.19 516.72,205.34 517.57,205.50 518.41,205.68 519.25,205.89 520.08,206.13 520.90,206.40 521.71,206.71 522.51,207.05 523.29,207.41 524.06,207.80 524.82,208.23 525.54,208.69 526.25,209.19 526.93,209.72 527.58,210.29 528.22,210.88 528.83,211.49 529.41,212.13 529.98,212.78 530.54,213.44 531.08,214.11 531.60,214.81 532.09,215.52 532.56,216.24 533.00,216.98 533.44,217.73 533.87,218.48 534.28,219.24 534.69,220.00 535.09,220.77 535.48,221.54 535.87,222.31 536.26,223.09 536.64,223.86 537.02,224.64 537.39,225.42 537.77,226.20 538.14,226.98 538.52,227.76 538.90,228.53 539.30,229.30 539.30,229.30 538.84,228.54 538.36,227.77 537.88,227.01 537.38,226.25 536.88,225.49 536.38,224.74 535.86,224.00 535.34,223.26 534.81,222.53 534.27,221.81 533.73,221.09 533.17,220.39 532.61,219.70 532.03,219.02 531.44,218.35 530.83,217.70 530.21,217.07 529.56,216.46 528.89,215.87 528.18,215.32 527.45,214.79 526.70,214.29 525.94,213.82 525.16,213.37 524.36,212.95 523.54,212.56 522.70,212.20 521.85,211.87 520.99,211.56 520.12,211.29 519.24,211.04 518.36,210.81 517.47,210.60 516.58,210.40 516.74,210.29 516.05,209.96 515.35,209.65 514.64,209.36 513.92,209.08 513.20,208.83 512.47,208.60 511.73,208.38 510.99,208.19 510.24,208.00 509.49,207.83 508.74,207.66 507.99,207.51 507.24,207.36 506.48,207.22 505.73,207.08 504.97,206.94 504.22,206.80 503.46,206.67 502.71,206.53 501.95,206.39 501.20,206.24 500.45,206.09 499.69,205.94 498.94,205.78 498.19,205.63 497.44,205.48 496.68,205.33 495.93,205.19 495.18,205.04 494.42,204.90 493.67,204.75 492.91,204.61 492.16,204.47 491.41,204.33 490.65,204.19 489.90,204.05 489.14,203.91 488.39,203.77 487.63,203.63 486.88,203.49 486.12,203.36 485.36,203.22 484.61,203.08 483.85,202.94 483.10,202.80" fill="url(#fin3)"/>
<polygon points="483.10,202.80 484.09,202.66 485.07,202.51 486.05,202.36 487.03,202.20 488.02,202.05 489.00,201.91 489.99,201.77 490.97,201.64 491.96,201.51 492.95,201.40 493.94,201.31 494.93,201.22 495.92,201.16 496.92,201.12 497.91,201.10 498.91,201.09 499.90,201.11 500.89,201.13 501.89,201.16 502.88,201.21 503.88,201.26 504.87,201.32 505.86,201.39 506.85,201.46 507.85,201.54 508.84,201.63 509.83,201.73 510.82,201.82 511.81,201.93 512.79,202.04 513.78,202.15 514.77,202.27 515.76,202.39 516.75,202.51 517.73,202.63 518.72,202.75 519.71,202.87 520.69,203.00 521.68,203.13 522.66,203.28 523.64,203.45 524.62,203.62 525.60,203.82 526.57,204.05 527.53,204.30 528.48,204.58 529.42,204.91 530.35,205.26 531.27,205.66 532.17,206.08 533.06,206.52 533.93,207.00 534.78,207.51 535.62,208.05 536.43,208.63 537.21,209.24 537.97,209.88 538.71,210.55 539.42,211.25 540.10,211.97 540.76,212.72 541.38,213.49 541.97,214.29 542.53,215.12 543.06,215.96 543.57,216.81 544.07,217.67 544.55,218.54 545.03,219.42 545.49,220.30 545.95,221.18 546.39,222.07 546.84,222.96 547.28,223.85 547.72,224.74 548.15,225.64 548.59,226.53 549.04,227.42 549.50,228.30 549.50,228.30 548.92,227.43 548.31,226.56 547.69,225.70 547.04,224.84 546.38,223.99 545.71,223.15 545.02,222.32 544.32,221.50 543.61,220.69 542.89,219.89 542.15,219.11 541.40,218.33 540.65,217.58 539.87,216.83 539.08,216.11 538.27,215.40 537.44,214.72 536.58,214.07 535.71,213.43 534.82,212.83 533.91,212.25 532.98,211.69 532.05,211.15 531.11,210.63 530.16,210.14 529.20,209.67 528.22,209.22 527.24,208.80 526.24,208.42 525.24,208.06 524.22,207.73 523.19,207.45 523.29,207.41 522.51,207.05 521.71,206.71 520.90,206.40 520.08,206.13 519.25,205.89 518.41,205.68 517.57,205.50 516.72,205.34 515.86,205.19 515.01,205.07 514.15,204.96 513.29,204.86 512.43,204.77 511.57,204.68 510.71,204.60 509.85,204.53 508.99,204.46 508.12,204.39 507.26,204.32 506.40,204.26 505.54,204.19 504.68,204.11 503.82,204.04 502.95,203.96 502.09,203.89 501.23,203.82 500.37,203.75 499.51,203.69 498.64,203.63 497.78,203.57 496.92,203.52 496.05,203.46 495.19,203.42 494.33,203.37 493.46,203.32 492.60,203.27 491.74,203.23 490.87,203.19 490.01,203.14 489.15,203.10 488.28,203.06 487.42,203.02 486.55,202.98 485.69,202.93 484.83,202.89 483.96,202.85 483.10,202.80" fill="url(#fin3)"/>
<polygon points="483.10,202.80 484.18,202.42 485.24,202.02 486.31,201.61 487.38,201.21 488.45,200.81 489.52,200.43 490.60,200.05 491.68,199.69 492.77,199.35 493.87,199.03 494.97,198.74 496.08,198.47 497.20,198.26 498.33,198.08 499.46,197.93 500.59,197.80 501.73,197.70 502.87,197.62 504.00,197.55 505.14,197.50 506.28,197.46 507.43,197.44 508.57,197.43 509.71,197.43 510.85,197.45 511.99,197.47 513.13,197.51 514.27,197.56 515.41,197.62 516.55,197.70 517.69,197.78 518.82,197.87 519.96,197.99 521.09,198.13 522.22,198.29 523.35,198.48 524.46,198.70 525.58,198.96 526.68,199.26 527.77,199.59 528.85,199.95 529.92,200.35 530.98,200.78 532.02,201.24 533.05,201.73 534.08,202.23 535.09,202.76 536.09,203.30 537.08,203.86 538.07,204.44 539.05,205.03 540.02,205.63 540.98,206.24 541.93,206.87 542.87,207.51 543.80,208.18 544.71,208.87 545.60,209.59 546.46,210.34 547.29,211.11 548.11,211.91 548.91,212.72 549.70,213.55 550.48,214.38 551.26,215.21 552.04,216.04 552.82,216.88 553.58,217.73 554.34,218.58 555.09,219.44 555.83,220.31 556.57,221.18 557.31,222.05 558.04,222.92 558.77,223.80 559.50,224.68 560.23,225.55 560.96,226.43 561.70,227.30 561.70,227.30 560.83,226.44 559.91,225.58 558.97,224.72 558.02,223.86 557.06,223.01 556.10,222.15 555.14,221.30 554.17,220.46 553.21,219.61 552.25,218.77 551.29,217.93 550.33,217.11 549.37,216.29 548.41,215.47 547.46,214.66 546.51,213.86 545.55,213.07 544.57,212.30 543.58,211.56 542.57,210.84 541.55,210.15 540.50,209.50 539.44,208.88 538.37,208.29 537.27,207.74 536.17,207.23 535.05,206.75 533.93,206.31 532.79,205.90 531.65,205.54 530.49,205.22 529.33,204.94 529.42,204.91 528.48,204.58 527.53,204.30 526.57,204.05 525.60,203.82 524.62,203.62 523.64,203.45 522.66,203.28 521.68,203.13 520.69,203.00 519.71,202.87 518.72,202.75 517.73,202.63 516.75,202.51 515.76,202.39 514.77,202.27 513.78,202.15 512.79,202.04 511.81,201.93 510.82,201.82 509.83,201.73 508.84,201.63 507.85,201.54 506.85,201.46 505.86,201.39 504.87,201.32 503.88,201.26 502.88,201.21 501.89,201.16 500.89,201.13 499.90,201.11 498.91,201.09 497.91,201.10 496.92,201.12 495.92,201.16 494.93,201.22 493.94,201.31 492.95,201.40 491.96,201.51 490.97,201.64 489.99,201.77 489.00,201.91 488.02,202.05 487.03,202.20 486.05,202.36 485.07,202.51 484.09,202.66 483.10,202.80" fill="url(#fin3)"/>
<polygon points="483.10,202.80 484.23,202.03 485.34,201.24 486.45,200.44 487.57,199.65 488.68,198.87 489.81,198.09 490.94,197.32 492.08,196.57 493.23,195.84 494.40,195.14 495.59,194.47 496.81,193.84 498.05,193.27 499.31,192.75 500.59,192.28 501.89,191.84 503.19,191.45 504.51,191.08 505.84,190.75 507.17,190.45 508.51,190.18 509.85,189.93 511.20,189.71 512.55,189.52 513.91,189.36 515.27,189.25 516.63,189.19 518.00,189.18 519.36,189.24 520.72,189.37 522.08,189.56 523.42,189.79 524.76,190.09 526.08,190.42 527.39,190.82 528.68,191.27 529.95,191.76 531.21,192.30 532.45,192.87 533.67,193.47 534.89,194.10 536.09,194.75 537.28,195.42 538.45,196.13 539.61,196.85 540.76,197.59 541.90,198.34 543.03,199.10 544.16,199.87 545.28,200.65 546.40,201.44 547.51,202.23 548.63,203.02 549.74,203.81 550.85,204.61 551.95,205.41 553.06,206.22 554.15,207.03 555.24,207.85 556.33,208.68 557.41,209.51 558.49,210.36 559.56,211.20 560.63,212.06 561.69,212.92 562.74,213.79 563.79,214.66 564.83,215.55 565.86,216.45 566.88,217.35 567.90,218.26 568.92,219.17 569.94,220.09 570.95,221.00 571.96,221.92 572.97,222.84 573.98,223.76 574.99,224.68 576.00,225.60 576.00,225.60 574.84,224.70 573.62,223.81 572.38,222.92 571.12,222.04 569.85,221.17 568.57,220.30 567.29,219.44 566.00,218.58 564.72,217.74 563.43,216.90 562.15,216.07 560.86,215.26 559.58,214.45 558.29,213.67 557.01,212.89 555.74,212.11 554.47,211.35 553.21,210.60 551.95,209.86 550.69,209.14 549.43,208.44 548.16,207.77 546.89,207.13 545.61,206.52 544.34,205.93 543.06,205.37 541.78,204.83 540.50,204.32 539.23,203.83 537.95,203.37 536.68,202.95 535.40,202.56 534.12,202.20 532.84,201.89 533.05,201.73 532.02,201.24 530.98,200.78 529.92,200.35 528.85,199.95 527.77,199.59 526.68,199.26 525.58,198.96 524.46,198.70 523.35,198.48 522.22,198.29 521.09,198.13 519.96,197.99 518.82,197.87 517.69,197.78 516.55,197.70 515.41,197.62 514.27,197.56 513.13,197.51 511.99,197.47 510.85,197.45 509.71,197.43 508.57,197.43 507.43,197.44 506.28,197.46 505.14,197.50 504.00,197.55 502.87,197.62 501.73,197.70 500.59,197.80 499.46,197.93 498.33,198.08 497.20,198.26 496.08,198.47 494.97,198.74 493.87,199.03 492.77,199.35 491.68,199.69 490.60,200.05 489.52,200.43 488.45,200.81 487.38,201.21 486.31,201.61 485.24,202.02 484.18,202.42 483.10,202.80" fill="url(#fin3)"/>
<polygon points="483.10,202.80 484.22,201.59 485.33,200.37 486.44,199.15 487.55,197.93 488.66,196.71 489.78,195.50 490.90,194.29 492.04,193.09 493.18,191.90 494.33,190.72 495.50,189.56 496.70,188.42 497.94,187.33 499.20,186.27 500.50,185.25 501.83,184.28 503.19,183.35 504.58,182.46 506.02,181.64 507.48,180.88 508.98,180.20 510.52,179.60 512.10,179.15 513.73,178.86 515.37,178.75 517.02,178.79 518.67,178.92 520.30,179.15 521.91,179.50 523.50,179.93 525.07,180.44 526.63,180.99 528.17,181.57 529.70,182.18 531.24,182.79 532.76,183.42 534.27,184.10 535.74,184.83 537.20,185.60 538.63,186.43 540.04,187.29 541.43,188.18 542.80,189.09 544.15,190.03 545.50,190.98 546.84,191.94 548.18,192.91 549.51,193.89 550.83,194.87 552.16,195.85 553.48,196.84 554.80,197.83 556.12,198.81 557.45,199.80 558.77,200.79 560.09,201.77 561.42,202.75 562.74,203.74 564.06,204.72 565.38,205.72 566.70,206.71 568.01,207.71 569.33,208.70 570.64,209.70 571.96,210.70 573.27,211.69 574.59,212.69 575.91,213.68 577.22,214.67 578.54,215.67 579.86,216.66 581.18,217.65 582.49,218.64 583.81,219.64 585.13,220.63 586.45,221.62 587.76,222.61 589.08,223.61 590.40,224.60 590.40,224.60 588.95,223.62 587.44,222.64 585.91,221.67 584.36,220.71 582.81,219.74 581.25,218.79 579.69,217.84 578.14,216.89 576.59,215.95 575.04,215.02 573.49,214.09 571.96,213.17 570.42,212.26 568.90,211.36 567.38,210.47 565.87,209.59 564.36,208.72 562.87,207.87 561.37,207.03 559.89,206.21 558.41,205.40 556.94,204.61 555.47,203.84 554.02,203.08 552.57,202.34 551.13,201.61 549.71,200.90 548.29,200.21 546.88,199.54 545.48,198.88 544.09,198.25 542.70,197.64 541.32,197.07 539.94,196.52 538.56,196.00 537.19,195.53 537.28,195.42 536.09,194.75 534.89,194.10 533.67,193.47 532.45,192.87 531.21,192.30 529.95,191.76 528.68,191.27 527.39,190.82 526.08,190.42 524.76,190.09 523.42,189.79 522.08,189.56 520.72,189.37 519.36,189.24 518.00,189.18 516.63,189.19 515.27,189.25 513.91,189.36 512.55,189.52 511.20,189.71 509.85,189.93 508.51,190.18 507.17,190.45 505.84,190.75 504.51,191.08 503.19,191.45 501.89,191.84 500.59,192.28 499.31,192.75 498.05,193.27 496.81,193.84 495.59,194.47 494.40,195.14 493.23,195.84 492.08,196.57 490.94,197.32 489.81,198.09 488.68,198.87 487.57,199.65 486.45,200.44 485.34,201.24 484.23,202.03 483.10,202.80" fill="url(#fin3)"/>
<polygon points="522.00,165.00 522.99,165.74 523.99,166.49 524.98,167.23 525.97,167.98 526.96,168.72 527.96,169.47 528.95,170.21 529.94,170.96 530.94,171.70 531.93,172.45 532.92,173.19 533.91,173.94 534.91,174.68 535.90,175.42 536.89,176.17 537.89,176.91 538.88,177.66 539.87,178.40 540.86,179.15 541.86,179.89 542.85,180.64 543.84,181.39 544.83,182.13 545.82,182.88 546.81,183.63 547.80,184.38 548.79,185.12 549.78,185.87 550.78,186.62 551.77,187.36 552.76,188.11 553.75,188.85 554.75,189.60 555.74,190.34 556.74,191.08 557.73,191.82 558.73,192.56 559.73,193.30 560.73,194.03 561.73,194.77 562.73,195.50 563.73,196.23 564.74,196.96 565.75,197.68 566.75,198.41 567.76,199.13 568.77,199.86 569.78,200.58 570.79,201.30 571.79,202.03 572.80,202.75 573.81,203.48 574.81,204.20 575.82,204.93 576.82,205.66 577.82,206.40 578.82,207.13 579.82,207.87 580.82,208.61 581.81,209.35 582.81,210.09 583.80,210.84 584.79,211.59 585.78,212.33 586.77,213.08 587.76,213.83 588.75,214.58 589.74,215.33 590.73,216.08 591.71,216.83 592.70,217.58 593.69,218.34 594.68,219.09 595.66,219.84 596.65,220.59 597.64,221.35 598.62,222.10 599.61,222.85 600.60,223.60 600.60,223.60 599.53,222.86 598.42,222.12 597.28,221.38 596.14,220.65 594.99,219.92 593.82,219.20 592.65,218.47 591.47,217.75 590.29,217.04 589.10,216.32 587.90,215.61 586.71,214.91 585.51,214.20 584.30,213.50 583.09,212.80 581.88,212.11 580.67,211.42 579.46,210.73 578.24,210.05 577.03,209.37 575.81,208.69 574.59,208.02 573.37,207.35 572.15,206.68 570.93,206.02 569.70,205.36 568.48,204.70 567.26,204.05 566.04,203.40 564.82,202.75 563.60,202.11 562.38,201.47 561.16,200.83 559.94,200.19 558.73,199.55 557.52,198.92 556.31,198.28 555.11,197.65 553.90,197.02 552.70,196.39 552.83,196.35 551.89,195.65 550.95,194.95 550.00,194.25 549.05,193.55 548.11,192.86 547.16,192.17 546.20,191.48 545.25,190.80 544.29,190.12 543.32,189.45 542.35,188.79 541.37,188.14 540.38,187.50 539.39,186.88 538.38,186.28 537.36,185.69 536.33,185.13 535.28,184.59 534.23,184.08 533.16,183.59 532.08,183.13 530.99,182.69 529.90,182.25 528.80,181.82 527.71,181.40 526.61,180.98 525.50,180.58 524.39,180.21 523.26,179.87 522.13,179.55 520.99,179.28 519.83,179.07 518.67,178.92 517.50,178.82 516.32,178.76 515.15,178.76 513.98,178.83 512.81,179.00 511.67,179.25 518.50,178.90 509.20,180.10 497.50,187.70 483.10,202.80 497.00,180.00 505.00,172.00 512.00,166.00" fill="url(#fin12)"/>
<polygon points="519.70,159.70 520.85,160.45 521.99,161.20 523.14,161.95 524.29,162.69 525.44,163.44 526.58,164.19 527.73,164.94 528.88,165.69 530.03,166.44 531.17,167.19 532.32,167.94 533.46,168.69 534.61,169.44 535.75,170.19 536.90,170.95 538.04,171.70 539.18,172.46 540.33,173.22 541.47,173.97 542.61,174.73 543.75,175.48 544.90,176.24 546.04,176.99 547.18,177.75 548.32,178.51 549.46,179.26 550.60,180.03 551.74,180.79 552.88,181.56 554.01,182.33 555.14,183.10 556.27,183.88 557.39,184.66 558.51,185.45 559.63,186.24 560.75,187.03 561.86,187.83 562.97,188.63 564.08,189.43 565.19,190.24 566.30,191.05 567.40,191.86 568.51,192.67 569.61,193.48 570.71,194.29 571.81,195.11 572.91,195.93 574.01,196.74 575.11,197.56 576.21,198.38 577.30,199.20 578.40,200.03 579.50,200.85 580.59,201.67 581.68,202.50 582.78,203.32 583.87,204.15 584.96,204.97 586.05,205.80 587.15,206.63 588.23,207.46 589.32,208.30 590.41,209.13 591.49,209.97 592.57,210.81 593.66,211.65 594.74,212.49 595.82,213.33 596.90,214.17 597.98,215.01 599.06,215.85 600.14,216.70 601.22,217.54 602.30,218.38 603.38,219.23 604.46,220.07 605.54,220.92 606.62,221.76 607.70,222.60 607.70,222.60 606.59,221.76 605.47,220.93 604.35,220.09 603.23,219.26 602.10,218.43 600.97,217.60 599.83,216.78 598.70,215.95 597.57,215.13 596.43,214.31 595.30,213.50 594.16,212.69 593.03,211.88 591.89,211.08 590.76,210.27 589.62,209.48 588.48,208.68 587.35,207.89 586.21,207.11 585.08,206.33 583.94,205.55 582.80,204.78 581.67,204.01 580.53,203.25 579.40,202.49 578.26,201.73 577.13,200.98 576.00,200.23 574.87,199.49 573.74,198.75 572.61,198.01 571.49,197.28 570.36,196.55 569.24,195.83 568.12,195.11 567.00,194.39 565.88,193.67 564.76,192.96 563.65,192.26 562.54,191.55 561.43,190.85 560.33,190.15 559.22,189.45 558.12,188.76 557.03,188.07 555.93,187.38 554.84,186.70 553.75,186.02 552.67,185.34 551.58,184.67 550.51,183.99 549.43,183.32 548.36,182.65 547.30,181.99 546.23,181.32 545.18,180.66 544.13,179.99 543.08,179.33 542.03,178.67 541.00,178.01 539.96,177.35 538.94,176.69 537.91,176.03 536.89,175.37 535.88,174.72 534.87,174.06 533.87,173.41 532.87,172.76 531.88,172.10 530.89,171.45 529.91,170.80 528.94,170.15 527.96,169.50 527.96,169.47 526.96,168.72 525.97,167.98 524.98,167.23 523.99,166.49 522.99,165.74 522.00,165.00" fill="url(#fin12)"/>
<path d="M519.70,159.70 C523.08,161.92 533.28,168.53 540.00,173.00 C546.72,177.47 552.50,181.17 560.00,186.50 C567.50,191.83 577.05,198.98 585.00,205.00 C592.95,211.02 603.92,219.67 607.70,222.60" fill="none" stroke="#505050" stroke-width="0.6"/>
<path d="M522.00,165.00 C525.00,167.25 533.67,173.75 540.00,178.50 C546.33,183.25 553.33,188.58 560.00,193.50 C566.67,198.42 573.23,202.98 580.00,208.00 C586.77,213.02 597.17,221.00 600.60,223.60" fill="none" stroke="#505050" stroke-width="0.6"/>
<path d="M483.10,202.80 C485.50,200.28 493.15,191.48 497.50,187.70 C501.85,183.92 505.70,181.57 509.20,180.10 C512.70,178.63 515.20,178.60 518.50,178.90 C521.80,179.20 525.30,180.43 529.00,181.90 C532.70,183.37 535.53,184.40 540.70,187.70 C545.87,191.00 554.28,197.48 560.00,201.70 C565.72,205.92 569.93,209.18 575.00,213.00 C580.07,216.82 587.83,222.67 590.40,224.60" fill="none" stroke="#505050" stroke-width="0.6"/>
<path d="M483.10,202.80 C485.50,201.25 492.57,195.72 497.50,193.50 C502.43,191.28 508.22,190.08 512.70,189.50 C517.18,188.92 520.52,189.13 524.40,190.00 C528.28,190.87 531.73,192.37 536.00,194.70 C540.27,197.03 545.50,200.78 550.00,204.00 C554.50,207.22 558.67,210.40 563.00,214.00 C567.33,217.60 573.83,223.67 576.00,225.60" fill="none" stroke="#505050" stroke-width="0.6"/>
<path d="M483.10,202.80 C485.50,202.03 492.18,199.07 497.50,198.20 C502.82,197.33 509.75,197.30 515.00,197.60 C520.25,197.90 524.33,198.33 529.00,200.00 C533.67,201.67 539.17,204.93 543.00,207.60 C546.83,210.27 548.88,212.72 552.00,216.00 C555.12,219.28 560.08,225.42 561.70,227.30" fill="none" stroke="#505050" stroke-width="0.6"/>
<path d="M483.10,202.80 C485.50,202.52 492.18,201.18 497.50,201.10 C502.82,201.02 509.55,201.62 515.00,202.30 C520.45,202.98 525.87,203.42 530.20,205.20 C534.53,206.98 537.78,209.15 541.00,213.00 C544.22,216.85 548.08,225.75 549.50,228.30" fill="none" stroke="#505050" stroke-width="0.6"/>
<path d="M483.10,202.80 C486.48,203.00 497.10,203.40 503.40,204.00 C509.70,204.60 516.30,204.73 520.90,206.40 C525.50,208.07 527.93,210.18 531.00,214.00 C534.07,217.82 537.92,226.75 539.30,229.30" fill="none" stroke="#505050" stroke-width="0.6"/>
<path d="M483.10,202.80 C485.92,203.33 494.68,204.88 500.00,206.00 C505.32,207.12 510.67,207.67 515.00,209.50 C519.33,211.33 522.98,213.63 526.00,217.00 C529.02,220.37 531.92,227.58 533.10,229.70" fill="none" stroke="#505050" stroke-width="0.6"/>
<path d="M483.10,202.80 C485.58,203.67 493.35,206.38 498.00,208.00 C502.65,209.62 507.33,210.50 511.00,212.50 C514.67,214.50 517.33,217.07 520.00,220.00 C522.67,222.93 525.83,228.42 527.00,230.10" fill="none" stroke="#505050" stroke-width="0.6"/>
<path d="M483.1,202.8 C490,206 498,211 510,219 C500,216 490,212 478,208.5 Z" fill="#6a1a0c"/>
<path d="M483.1,202.8 C495.0,207.0 512.0,218.0 522.0,230.0" fill="none" stroke="#7a2a18" stroke-width="0.5"/>
<path d="M483.1,202.8 C497.0,208.0 515.0,219.5 525.0,229.7" fill="none" stroke="#7a2a18" stroke-width="0.5"/>
<path d="M483.1,202.8 C499.0,209.0 518.0,221.0 528.0,229.4" fill="none" stroke="#7a2a18" stroke-width="0.5"/>
<path d="M483.1,202.8 C501.0,210.0 521.0,222.5 531.0,229.1" fill="none" stroke="#7a2a18" stroke-width="0.5"/>
<path d="M318.60,95.50 C318.92,94.18 319.20,90.08 320.50,87.60 C321.80,85.12 323.08,83.13 326.40,80.60 C329.72,78.07 335.35,74.93 340.40,72.40 C345.45,69.87 350.08,67.93 356.70,65.40 C363.32,62.87 372.32,59.85 380.10,57.20 C387.88,54.55 396.40,51.45 403.40,49.50 C410.40,47.55 415.87,46.43 422.10,45.50 C428.33,44.57 432.82,44.22 440.80,43.90 C448.78,43.58 460.13,43.28 470.00,43.60 C479.87,43.92 490.40,44.17 500.00,45.80 C509.60,47.43 519.27,50.62 527.60,53.40 C535.93,56.18 542.77,59.10 550.00,62.50 C557.23,65.90 565.00,70.38 571.00,73.80 C577.00,77.22 581.75,80.50 586.00,83.00 C590.25,85.50 594.75,87.83 596.50,88.80 L570.00,114.00 C567.50,116.37 559.17,124.25 555.00,128.20 C550.83,132.15 547.83,135.07 545.00,137.70 C542.17,140.33 540.50,141.85 538.00,144.00 C535.50,146.15 532.67,148.50 530.00,150.60 C527.33,152.70 524.77,154.77 522.00,156.60 C519.23,158.43 516.78,160.32 513.40,161.60 C510.02,162.88 505.60,163.68 501.70,164.30 C497.80,164.92 493.05,165.02 490.00,165.30 C486.95,165.58 488.40,165.82 483.40,166.00 C478.40,166.18 467.78,166.53 460.00,166.40 C452.22,166.27 444.47,166.18 436.70,165.20 C428.93,164.22 419.62,162.88 413.40,160.50 C407.18,158.12 401.73,152.50 399.40,150.90 L399.40,150.90 C399.10,150.43 400.83,150.32 397.60,148.10 C394.37,145.88 385.83,141.12 380.00,137.60 C374.17,134.08 368.43,130.52 362.60,127.00 C356.77,123.48 350.27,119.55 345.00,116.50 C339.73,113.45 334.78,110.88 331.00,108.70 C327.22,106.52 324.37,105.60 322.30,103.40 C320.23,101.20 319.22,96.82 318.60,95.50 Z" fill="url(#upg)"/>
<path d="M318.60,95.50 C318.92,94.18 319.20,90.08 320.50,87.60 C321.80,85.12 323.08,83.13 326.40,80.60 C329.72,78.07 335.35,74.93 340.40,72.40 C345.45,69.87 350.08,67.93 356.70,65.40 C363.32,62.87 372.32,59.85 380.10,57.20 C387.88,54.55 396.40,51.45 403.40,49.50 C410.40,47.55 415.87,46.43 422.10,45.50 C428.33,44.57 432.82,44.22 440.80,43.90 C448.78,43.58 460.13,43.28 470.00,43.60 C479.87,43.92 490.40,44.17 500.00,45.80 C509.60,47.43 519.27,50.62 527.60,53.40 C535.93,56.18 542.77,59.10 550.00,62.50 C557.23,65.90 565.00,70.38 571.00,73.80 C577.00,77.22 581.75,80.50 586.00,83.00 C590.25,85.50 594.75,87.83 596.50,88.80 L570.00,114.00 C567.50,116.37 559.17,124.25 555.00,128.20 C550.83,132.15 547.83,135.07 545.00,137.70 C542.17,140.33 540.50,141.85 538.00,144.00 C535.50,146.15 532.67,148.50 530.00,150.60 C527.33,152.70 524.77,154.77 522.00,156.60 C519.23,158.43 516.78,160.32 513.40,161.60 C510.02,162.88 505.60,163.68 501.70,164.30 C497.80,164.92 493.05,165.02 490.00,165.30 C486.95,165.58 488.40,165.82 483.40,166.00 C478.40,166.18 467.78,166.53 460.00,166.40 C452.22,166.27 444.47,166.18 436.70,165.20 C428.93,164.22 419.62,162.88 413.40,160.50 C407.18,158.12 401.73,152.50 399.40,150.90 L399.40,150.90 C399.10,150.43 400.83,150.32 397.60,148.10 C394.37,145.88 385.83,141.12 380.00,137.60 C374.17,134.08 368.43,130.52 362.60,127.00 C356.77,123.48 350.27,119.55 345.00,116.50 C339.73,113.45 334.78,110.88 331.00,108.70 C327.22,106.52 324.37,105.60 322.30,103.40 C320.23,101.20 319.22,96.82 318.60,95.50 Z" fill="url(#upd)"/>
<path d="M318.60,95.50 C318.92,94.18 319.20,90.08 320.50,87.60 C321.80,85.12 323.08,83.13 326.40,80.60 C329.72,78.07 335.35,74.93 340.40,72.40 C345.45,69.87 350.08,67.93 356.70,65.40 C363.32,62.87 372.32,59.85 380.10,57.20 C387.88,54.55 396.40,51.45 403.40,49.50 C410.40,47.55 415.87,46.43 422.10,45.50 C428.33,44.57 432.82,44.22 440.80,43.90 C448.78,43.58 460.13,43.28 470.00,43.60 C479.87,43.92 490.40,44.17 500.00,45.80 C509.60,47.43 519.27,50.62 527.60,53.40 C535.93,56.18 542.77,59.10 550.00,62.50 C557.23,65.90 565.00,70.38 571.00,73.80 C577.00,77.22 581.75,80.50 586.00,83.00 C590.25,85.50 594.75,87.83 596.50,88.80 L570.00,114.00 C567.50,116.37 559.17,124.25 555.00,128.20 C550.83,132.15 547.83,135.07 545.00,137.70 C542.17,140.33 540.50,141.85 538.00,144.00 C535.50,146.15 532.67,148.50 530.00,150.60 C527.33,152.70 524.77,154.77 522.00,156.60 C519.23,158.43 516.78,160.32 513.40,161.60 C510.02,162.88 505.60,163.68 501.70,164.30 C497.80,164.92 493.05,165.02 490.00,165.30 C486.95,165.58 488.40,165.82 483.40,166.00 C478.40,166.18 467.78,166.53 460.00,166.40 C452.22,166.27 444.47,166.18 436.70,165.20 C428.93,164.22 419.62,162.88 413.40,160.50 C407.18,158.12 401.73,152.50 399.40,150.90 L399.40,150.90 C399.10,150.43 400.83,150.32 397.60,148.10 C394.37,145.88 385.83,141.12 380.00,137.60 C374.17,134.08 368.43,130.52 362.60,127.00 C356.77,123.48 350.27,119.55 345.00,116.50 C339.73,113.45 334.78,110.88 331.00,108.70 C327.22,106.52 324.37,105.60 322.30,103.40 C320.23,101.20 319.22,96.82 318.60,95.50 Z" fill="url(#uptip)"/>
<clipPath id="upclip"><path d="M318.60,95.50 C318.92,94.18 319.20,90.08 320.50,87.60 C321.80,85.12 323.08,83.13 326.40,80.60 C329.72,78.07 335.35,74.93 340.40,72.40 C345.45,69.87 350.08,67.93 356.70,65.40 C363.32,62.87 372.32,59.85 380.10,57.20 C387.88,54.55 396.40,51.45 403.40,49.50 C410.40,47.55 415.87,46.43 422.10,45.50 C428.33,44.57 432.82,44.22 440.80,43.90 C448.78,43.58 460.13,43.28 470.00,43.60 C479.87,43.92 490.40,44.17 500.00,45.80 C509.60,47.43 519.27,50.62 527.60,53.40 C535.93,56.18 542.77,59.10 550.00,62.50 C557.23,65.90 565.00,70.38 571.00,73.80 C577.00,77.22 581.75,80.50 586.00,83.00 C590.25,85.50 594.75,87.83 596.50,88.80 L570.00,114.00 C567.50,116.37 559.17,124.25 555.00,128.20 C550.83,132.15 547.83,135.07 545.00,137.70 C542.17,140.33 540.50,141.85 538.00,144.00 C535.50,146.15 532.67,148.50 530.00,150.60 C527.33,152.70 524.77,154.77 522.00,156.60 C519.23,158.43 516.78,160.32 513.40,161.60 C510.02,162.88 505.60,163.68 501.70,164.30 C497.80,164.92 493.05,165.02 490.00,165.30 C486.95,165.58 488.40,165.82 483.40,166.00 C478.40,166.18 467.78,166.53 460.00,166.40 C452.22,166.27 444.47,166.18 436.70,165.20 C428.93,164.22 419.62,162.88 413.40,160.50 C407.18,158.12 401.73,152.50 399.40,150.90 L399.40,150.90 C399.10,150.43 400.83,150.32 397.60,148.10 C394.37,145.88 385.83,141.12 380.00,137.60 C374.17,134.08 368.43,130.52 362.60,127.00 C356.77,123.48 350.27,119.55 345.00,116.50 C339.73,113.45 334.78,110.88 331.00,108.70 C327.22,106.52 324.37,105.60 322.30,103.40 C320.23,101.20 319.22,96.82 318.60,95.50 Z"/></clipPath>
<g clip-path="url(#upclip)">
<path d="M570.00,114.00 C567.50,116.37 559.17,124.25 555.00,128.20 C550.83,132.15 547.83,135.07 545.00,137.70 C542.17,140.33 540.50,141.85 538.00,144.00 C535.50,146.15 532.67,148.50 530.00,150.60 C527.33,152.70 524.77,154.77 522.00,156.60 C519.23,158.43 516.78,160.32 513.40,161.60 C510.02,162.88 505.60,163.68 501.70,164.30 C497.80,164.92 493.05,165.02 490.00,165.30 C486.95,165.58 488.40,165.82 483.40,166.00 C478.40,166.18 467.78,166.53 460.00,166.40 C452.22,166.27 444.47,166.18 436.70,165.20 C428.93,164.22 419.62,162.88 413.40,160.50 C407.18,158.12 401.73,152.50 399.40,150.90 L401.10,150.70 C403.43,150.27 409.95,147.82 415.10,148.10 C420.25,148.38 426.45,152.08 432.00,152.40 C437.55,152.72 442.95,151.95 448.40,150.00 C453.85,148.05 460.03,143.62 464.70,140.70 C469.37,137.78 473.18,134.70 476.40,132.50 C479.62,130.30 482.73,128.33 484.00,127.50 L484.00,127.50 C485.47,128.33 489.85,130.75 492.80,132.50 C495.75,134.25 498.27,136.20 501.70,138.00 C505.13,139.80 510.10,142.32 513.40,143.30 C516.70,144.28 518.58,144.38 521.50,143.90 C524.42,143.42 527.38,142.15 530.90,140.40 C534.42,138.65 539.08,135.63 542.60,133.40 C546.12,131.17 548.87,128.92 552.00,127.00 C555.13,125.08 559.07,123.15 561.40,121.90 C563.73,120.65 565.23,119.90 566.00,119.50 Z" fill="url(#greenf)"/>
<path d="M327.50,92.90 C328.08,94.80 328.08,100.95 331.00,104.30 C333.92,107.65 339.73,109.93 345.00,113.00 C350.27,116.07 356.77,119.48 362.60,122.70 C368.43,125.92 374.17,129.23 380.00,132.30 C385.83,135.37 391.75,138.47 397.60,141.10 C403.45,143.73 409.37,146.22 415.10,148.10 C420.83,149.98 426.45,152.08 432.00,152.40 C437.55,152.72 442.95,151.95 448.40,150.00 C453.85,148.05 460.03,143.62 464.70,140.70 C469.37,137.78 473.18,134.70 476.40,132.50 C479.62,130.30 482.73,128.33 484.00,127.50" fill="none" stroke="#383850" stroke-width="0.7" stroke-opacity="0.85"/>
<path d="M342.40,92.90 C343.72,94.80 346.93,101.23 350.30,104.30 C353.67,107.37 357.65,108.38 362.60,111.30 C367.55,114.22 374.17,118.45 380.00,121.80 C385.83,125.15 391.75,128.48 397.60,131.40 C403.45,134.32 409.70,137.40 415.10,139.30 C420.50,141.20 424.85,142.35 430.00,142.80 C435.15,143.25 440.67,143.13 446.00,142.00 C451.33,140.87 457.33,137.92 462.00,136.00 C466.67,134.08 470.33,131.92 474.00,130.50 C477.67,129.08 482.33,128.00 484.00,127.50" fill="none" stroke="#383850" stroke-width="0.7" stroke-opacity="0.85"/>
<path d="M360.00,92.00 C361.00,93.60 362.67,98.68 366.00,101.60 C369.33,104.52 374.73,106.43 380.00,109.50 C385.27,112.57 391.75,116.78 397.60,120.00 C403.45,123.22 409.70,126.75 415.10,128.80 C420.50,130.85 424.68,131.60 430.00,132.30 C435.32,133.00 441.50,133.30 447.00,133.00 C452.50,132.70 458.33,131.25 463.00,130.50 C467.67,129.75 471.50,129.00 475.00,128.50 C478.50,128.00 482.50,127.67 484.00,127.50" fill="none" stroke="#383850" stroke-width="0.7" stroke-opacity="0.85"/>
<path d="M378.30,90.30 C379.18,91.75 380.38,96.08 383.60,99.00 C386.82,101.92 392.35,104.88 397.60,107.80 C402.85,110.72 409.70,114.47 415.10,116.50 C420.50,118.53 424.52,118.92 430.00,120.00 C435.48,121.08 442.17,122.08 448.00,123.00 C453.83,123.92 460.33,124.87 465.00,125.50 C469.67,126.13 472.83,126.47 476.00,126.80 C479.17,127.13 482.67,127.38 484.00,127.50" fill="none" stroke="#383850" stroke-width="0.7" stroke-opacity="0.85"/>
<path d="M395.80,88.50 C396.50,89.75 396.80,93.42 400.00,96.00 C403.20,98.58 410.00,102.03 415.00,104.00 C420.00,105.97 424.50,106.13 430.00,107.80 C435.50,109.47 442.00,111.80 448.00,114.00 C454.00,116.20 460.00,118.75 466.00,121.00 C472.00,123.25 481.00,126.42 484.00,127.50" fill="none" stroke="#383850" stroke-width="0.7" stroke-opacity="0.85"/>
<path d="M408.60,87.00 C409.17,88.25 409.27,92.17 412.00,94.50 C414.73,96.83 420.33,99.08 425.00,101.00 C429.67,102.92 434.67,103.92 440.00,106.00 C445.33,108.08 451.67,110.92 457.00,113.50 C462.33,116.08 467.50,119.17 472.00,121.50 C476.50,123.83 482.00,126.50 484.00,127.50" fill="none" stroke="#383850" stroke-width="0.7" stroke-opacity="0.85"/>
<path d="M417.50,85.00 C417.92,86.33 417.58,90.50 420.00,93.00 C422.42,95.50 427.50,97.58 432.00,100.00 C436.50,102.42 442.00,104.92 447.00,107.50 C452.00,110.08 457.33,112.92 462.00,115.50 C466.67,118.08 471.33,121.00 475.00,123.00 C478.67,125.00 482.50,126.75 484.00,127.50" fill="none" stroke="#383850" stroke-width="0.7" stroke-opacity="0.85"/>
<path d="M422.80,83.30 C423.25,84.75 423.30,89.22 425.50,92.00 C427.70,94.78 431.92,97.25 436.00,100.00 C440.08,102.75 445.17,105.67 450.00,108.50 C454.83,111.33 460.50,114.42 465.00,117.00 C469.50,119.58 473.83,122.25 477.00,124.00 C480.17,125.75 482.83,126.92 484.00,127.50" fill="none" stroke="#383850" stroke-width="0.7" stroke-opacity="0.85"/>
<path d="M426.30,81.50 C426.75,83.08 426.88,87.83 429.00,91.00 C431.12,94.17 435.17,97.42 439.00,100.50 C442.83,103.58 447.33,106.50 452.00,109.50 C456.67,112.50 462.67,115.92 467.00,118.50 C471.33,121.08 475.17,123.50 478.00,125.00 C480.83,126.50 483.00,127.08 484.00,127.50" fill="none" stroke="#383850" stroke-width="0.7" stroke-opacity="0.85"/>
<path d="M327.50,92.90 C327.92,91.42 328.43,86.73 330.00,84.00 C331.57,81.27 333.23,79.08 336.90,76.50 C340.57,73.92 345.92,71.18 352.00,68.50 C358.08,65.82 362.90,63.23 373.40,60.40 C383.90,57.57 403.90,53.17 415.00,51.50 C426.10,49.83 425.83,50.32 440.00,50.40 C454.17,50.48 481.67,49.32 500.00,52.00 C518.33,54.68 533.92,60.37 550.00,66.50 C566.08,72.63 588.75,85.08 596.50,88.80" fill="none" stroke="#eab0f4" stroke-width="0.7" stroke-opacity="0.55"/>
<path d="M342.40,92.90 C342.83,91.42 343.48,86.73 345.00,84.00 C346.52,81.27 348.17,78.83 351.50,76.50 C354.83,74.17 360.13,71.95 365.00,70.00 C369.87,68.05 372.37,66.80 380.70,64.80 C389.03,62.80 405.12,59.18 415.00,58.00 C424.88,56.82 425.83,57.62 440.00,57.70 C454.17,57.78 481.67,56.37 500.00,58.50 C518.33,60.63 533.92,65.45 550.00,70.50 C566.08,75.55 588.75,85.75 596.50,88.80" fill="none" stroke="#eab0f4" stroke-width="0.7" stroke-opacity="0.55"/>
<path d="M360.00,92.00 C360.42,90.58 361.00,86.00 362.50,83.50 C364.00,81.00 365.75,79.08 369.00,77.00 C372.25,74.92 376.83,72.75 382.00,71.00 C387.17,69.25 390.33,67.73 400.00,66.50 C409.67,65.27 423.33,64.02 440.00,63.60 C456.67,63.18 481.67,62.27 500.00,64.00 C518.33,65.73 533.92,69.87 550.00,74.00 C566.08,78.13 588.75,86.33 596.50,88.80" fill="none" stroke="#eab0f4" stroke-width="0.7" stroke-opacity="0.55"/>
<path d="M378.30,90.30 C378.75,88.92 379.38,84.38 381.00,82.00 C382.62,79.62 384.83,77.67 388.00,76.00 C391.17,74.33 394.67,73.08 400.00,72.00 C405.33,70.92 413.33,69.97 420.00,69.50 C426.67,69.03 426.67,69.28 440.00,69.20 C453.33,69.12 481.67,67.70 500.00,69.00 C518.33,70.30 533.92,73.70 550.00,77.00 C566.08,80.30 588.75,86.83 596.50,88.80" fill="none" stroke="#eab0f4" stroke-width="0.7" stroke-opacity="0.55"/>
<path d="M395.80,88.50 C396.25,87.17 396.97,82.58 398.50,80.50 C400.03,78.42 401.42,77.17 405.00,76.00 C408.58,74.83 414.17,73.95 420.00,73.50 C425.83,73.05 426.67,73.47 440.00,73.30 C453.33,73.13 481.67,71.47 500.00,72.50 C518.33,73.53 533.92,76.78 550.00,79.50 C566.08,82.22 588.75,87.25 596.50,88.80" fill="none" stroke="#eab0f4" stroke-width="0.7" stroke-opacity="0.55"/>
<path d="M408.60,87.00 C409.00,85.75 409.43,81.33 411.00,79.50 C412.57,77.67 413.17,76.70 418.00,76.00 C422.83,75.30 426.33,75.55 440.00,75.30 C453.67,75.05 481.67,73.55 500.00,74.50 C518.33,75.45 533.92,78.62 550.00,81.00 C566.08,83.38 588.75,87.50 596.50,88.80" fill="none" stroke="#eab0f4" stroke-width="0.7" stroke-opacity="0.55"/>
<path d="M417.50,85.00 C417.92,84.00 418.42,80.45 420.00,79.00 C421.58,77.55 423.67,76.80 427.00,76.30 C430.33,75.80 427.83,76.17 440.00,76.00 C452.17,75.83 481.67,74.22 500.00,75.30 C518.33,76.38 533.92,80.25 550.00,82.50 C566.08,84.75 588.75,87.75 596.50,88.80" fill="none" stroke="#eab0f4" stroke-width="0.7" stroke-opacity="0.55"/>
<path d="M422.80,83.30 C423.17,82.50 423.63,79.63 425.00,78.50 C426.37,77.37 428.50,76.87 431.00,76.50 C433.50,76.13 428.50,76.42 440.00,76.30 C451.50,76.18 481.67,74.63 500.00,75.80 C518.33,76.97 533.92,81.13 550.00,83.30 C566.08,85.47 588.75,87.88 596.50,88.80" fill="none" stroke="#eab0f4" stroke-width="0.7" stroke-opacity="0.55"/>
<path d="M426.30,81.50 C426.58,80.92 426.72,78.83 428.00,78.00 C429.28,77.17 431.17,76.80 434.00,76.50 C436.83,76.20 434.00,76.28 445.00,76.20 C456.00,76.12 482.50,74.70 500.00,76.00 C517.50,77.30 533.92,81.87 550.00,84.00 C566.08,86.13 588.75,88.00 596.50,88.80" fill="none" stroke="#eab0f4" stroke-width="0.7" stroke-opacity="0.55"/>
<path d="M484.00,127.50 C485.47,128.33 489.85,130.75 492.80,132.50 C495.75,134.25 498.27,136.20 501.70,138.00 C505.13,139.80 510.10,142.32 513.40,143.30 C516.70,144.28 518.58,144.38 521.50,143.90 C524.42,143.42 527.38,142.15 530.90,140.40 C534.42,138.65 539.08,135.63 542.60,133.40 C546.12,131.17 548.87,128.92 552.00,127.00 C555.13,125.08 559.07,123.15 561.40,121.90 C563.73,120.65 565.23,119.90 566.00,119.50" fill="none" stroke="#383850" stroke-width="0.7" stroke-opacity="0.85"/>
<path d="M484.00,127.50 C486.25,128.08 493.83,129.83 497.50,131.00 C501.17,132.17 503.08,133.72 506.00,134.50 C508.92,135.28 512.00,135.62 515.00,135.70 C518.00,135.78 521.07,135.52 524.00,135.00 C526.93,134.48 529.10,134.18 532.60,132.60 C536.10,131.02 540.77,127.93 545.00,125.50 C549.23,123.07 553.80,119.98 558.00,118.00 C562.20,116.02 567.37,114.68 570.20,113.60 C573.03,112.52 574.20,111.85 575.00,111.50" fill="none" stroke="#383850" stroke-width="0.7" stroke-opacity="0.85"/>
<path d="M484.00,127.50 C486.33,127.67 494.17,128.00 498.00,128.50 C501.83,129.00 504.17,130.12 507.00,130.50 C509.83,130.88 512.17,130.97 515.00,130.80 C517.83,130.63 521.07,130.08 524.00,129.50 C526.93,128.92 529.10,128.72 532.60,127.30 C536.10,125.88 540.43,123.30 545.00,121.00 C549.57,118.70 554.53,115.92 560.00,113.50 C565.47,111.08 574.13,108.00 577.80,106.50 C581.47,105.00 581.30,104.83 582.00,104.50" fill="none" stroke="#383850" stroke-width="0.7" stroke-opacity="0.85"/>
<path d="M484.00,127.50 C486.33,127.08 494.17,125.50 498.00,125.00 C501.83,124.50 504.00,124.75 507.00,124.50 C510.00,124.25 513.00,124.00 516.00,123.50 C519.00,123.00 521.83,122.33 525.00,121.50 C528.17,120.67 531.17,119.92 535.00,118.50 C538.83,117.08 543.00,115.08 548.00,113.00 C553.00,110.92 558.87,108.20 565.00,106.00 C571.13,103.80 580.80,101.13 584.80,99.80 C588.80,98.47 588.30,98.30 589.00,98.00" fill="none" stroke="#383850" stroke-width="0.7" stroke-opacity="0.85"/>
<path d="M484.00,127.50 C486.33,126.50 493.17,123.15 498.00,121.50 C502.83,119.85 508.00,119.27 513.00,117.60 C518.00,115.93 523.13,113.45 528.00,111.50 C532.87,109.55 537.53,107.65 542.20,105.90 C546.87,104.15 551.03,102.48 556.00,101.00 C560.97,99.52 566.22,98.12 572.00,97.00 C577.78,95.88 587.03,94.97 590.70,94.30 C594.37,93.63 593.45,93.22 594.00,93.00" fill="none" stroke="#383850" stroke-width="0.7" stroke-opacity="0.85"/>
<path d="M484.00,127.50 C486.17,125.83 492.67,120.08 497.00,117.50 C501.33,114.92 505.33,114.00 510.00,112.00 C514.67,110.00 520.00,107.50 525.00,105.50 C530.00,103.50 535.00,101.58 540.00,100.00 C545.00,98.42 550.00,97.17 555.00,96.00 C560.00,94.83 565.00,94.00 570.00,93.00 C575.00,92.00 580.58,90.70 585.00,90.00 C589.42,89.30 594.58,89.00 596.50,88.80" fill="none" stroke="#383850" stroke-width="0.7" stroke-opacity="0.85"/>
</g>
<path d="M570.00,114.00 C567.50,116.37 559.17,124.25 555.00,128.20 C550.83,132.15 547.83,135.07 545.00,137.70 C542.17,140.33 540.50,141.85 538.00,144.00 C535.50,146.15 532.67,148.50 530.00,150.60 C527.33,152.70 524.77,154.77 522.00,156.60 C519.23,158.43 516.78,160.32 513.40,161.60 C510.02,162.88 505.60,163.68 501.70,164.30 C497.80,164.92 493.05,165.02 490.00,165.30 C486.95,165.58 488.40,165.82 483.40,166.00 C478.40,166.18 467.78,166.53 460.00,166.40 C452.22,166.27 444.47,166.18 436.70,165.20 C428.93,164.22 419.62,162.88 413.40,160.50 C407.18,158.12 401.73,152.50 399.40,150.90" fill="none" stroke="#4a4a4a" stroke-width="0.7"/>
<text x="515.80" y="27.00" font-family="'Liberation Sans', sans-serif" font-size="11.00" text-anchor="start" font-weight="normal" font-style="normal" fill="#222" >&#8722;3</text>
<text x="549.80" y="41.90" font-family="'Liberation Sans', sans-serif" font-size="11.00" text-anchor="start" font-weight="normal" font-style="normal" fill="#222" >&#8722;2</text>
<text x="587.60" y="58.00" font-family="'Liberation Sans', sans-serif" font-size="11.00" text-anchor="start" font-weight="normal" font-style="normal" fill="#222" >&#8722;1</text>
<text x="635.60" y="78.30" font-family="'Liberation Sans', sans-serif" font-size="12.80" text-anchor="start" font-weight="normal" font-style="normal" fill="#222" >0</text>
<text x="646.60" y="110.80" font-family="'Liberation Sans', sans-serif" font-size="12.00" text-anchor="start" font-weight="normal" font-style="normal" fill="#222" >0.5</text>
<text x="644.40" y="160.00" font-family="'Liberation Sans', sans-serif" font-size="12.00" text-anchor="start" font-weight="normal" font-style="normal" fill="#222" >0.0</text>
<text x="641.60" y="207.60" font-family="'Liberation Sans', sans-serif" font-size="12.50" text-anchor="start" font-weight="normal" font-style="normal" fill="#222" >&#8722;0.5</text>
<text x="376.20" y="264.20" font-family="'Liberation Sans', sans-serif" font-size="13.00" text-anchor="start" font-weight="normal" font-style="normal" fill="#222" >2</text>
<text x="479.90" y="254.70" font-family="'Liberation Sans', sans-serif" font-size="13.00" text-anchor="start" font-weight="normal" font-style="normal" fill="#222" >0</text>
<text x="574.80" y="245.90" font-family="'Liberation Sans', sans-serif" font-size="12.50" text-anchor="start" font-weight="normal" font-style="normal" fill="#222" >&#8722;2</text>
<line x1="549.0" y1="47.0" x2="547.5" y2="50.0" stroke="#555" stroke-width="0.8"/>
<line x1="587.0" y1="63.5" x2="585.5" y2="66.5" stroke="#555" stroke-width="0.8"/>
<line x1="625.5" y1="80.0" x2="624.0" y2="83.0" stroke="#555" stroke-width="0.8"/>
<line x1="636.8" y1="214.1" x2="634.8" y2="214.1" stroke="#666" stroke-width="0.7"/>
<line x1="637.3" y1="204.5" x2="634.1" y2="204.5" stroke="#666" stroke-width="0.7"/>
<line x1="637.8" y1="194.9" x2="635.8" y2="194.9" stroke="#666" stroke-width="0.7"/>
<line x1="638.3" y1="185.2" x2="636.3" y2="185.2" stroke="#666" stroke-width="0.7"/>
<line x1="638.9" y1="175.6" x2="636.9" y2="175.6" stroke="#666" stroke-width="0.7"/>
<line x1="639.4" y1="165.9" x2="637.4" y2="165.9" stroke="#666" stroke-width="0.7"/>
<line x1="639.9" y1="156.3" x2="636.7" y2="156.3" stroke="#666" stroke-width="0.7"/>
<line x1="640.5" y1="146.7" x2="638.5" y2="146.7" stroke="#666" stroke-width="0.7"/>
<line x1="641.0" y1="137.0" x2="639.0" y2="137.0" stroke="#666" stroke-width="0.7"/>
<line x1="641.5" y1="127.4" x2="639.5" y2="127.4" stroke="#666" stroke-width="0.7"/>
<line x1="642.1" y1="117.7" x2="640.1" y2="117.7" stroke="#666" stroke-width="0.7"/>
<line x1="642.6" y1="108.1" x2="639.4" y2="108.1" stroke="#666" stroke-width="0.7"/>
<line x1="643.1" y1="98.5" x2="641.1" y2="98.5" stroke="#666" stroke-width="0.7"/>
<line x1="303.0" y1="252.9" x2="303.0" y2="250.4" stroke="#555" stroke-width="0.8"/>
<line x1="330.5" y1="250.4" x2="330.5" y2="247.9" stroke="#555" stroke-width="0.8"/>
<line x1="355.5" y1="248.1" x2="355.5" y2="245.6" stroke="#555" stroke-width="0.8"/>
<line x1="381.0" y1="245.8" x2="381.0" y2="243.3" stroke="#555" stroke-width="0.8"/>
<line x1="407.5" y1="243.4" x2="407.5" y2="240.9" stroke="#555" stroke-width="0.8"/>
<line x1="433.0" y1="241.1" x2="433.0" y2="238.6" stroke="#555" stroke-width="0.8"/>
<line x1="459.4" y1="238.7" x2="459.4" y2="236.2" stroke="#555" stroke-width="0.8"/>
<line x1="484.8" y1="236.4" x2="484.8" y2="233.9" stroke="#555" stroke-width="0.8"/>
<line x1="510.2" y1="234.1" x2="510.2" y2="231.6" stroke="#555" stroke-width="0.8"/>
<line x1="535.5" y1="231.8" x2="535.5" y2="229.3" stroke="#555" stroke-width="0.8"/>
<line x1="561.0" y1="229.5" x2="561.0" y2="227.0" stroke="#555" stroke-width="0.8"/>
<line x1="586.5" y1="227.2" x2="586.5" y2="224.7" stroke="#555" stroke-width="0.8"/>
<line x1="612.0" y1="224.9" x2="612.0" y2="222.4" stroke="#555" stroke-width="0.8"/>
<text x="451" y="279.5" font-family="'Liberation Serif', serif" font-size="20" font-style="italic" fill="#222" textLength="40" lengthAdjust="spacingAndGlyphs">p<tspan font-size="13" dy="3">x</tspan><tspan dy="-3">/p</tspan><tspan font-size="13" dy="3">c</tspan></text>
<text transform="translate(572.2,8.2) rotate(24)" font-family="'Liberation Serif', serif" font-size="19.5" font-style="italic" fill="#222" textLength="40.5" lengthAdjust="spacingAndGlyphs">p<tspan font-size="12.5" dy="3">y</tspan><tspan dy="-3">/p</tspan><tspan font-size="12.5" dy="3">c</tspan></text>
<g transform="translate(681,176.5) rotate(-90)" font-family="'Liberation Serif', serif" fill="#222"><text x="0.2" y="0" font-size="21" textLength="9.2" lengthAdjust="spacingAndGlyphs">&#1013;</text><text x="15" y="0" font-size="21" textLength="32.2" lengthAdjust="spacingAndGlyphs">(eV)</text></g>
<text x="0.30" y="20.30" font-family="'Liberation Sans', sans-serif" font-size="29.5" font-weight="bold" textLength="16.20" lengthAdjust="spacingAndGlyphs">a</text>
<text x="353.90" y="25.50" font-family="'Liberation Sans', sans-serif" font-size="29.5" font-weight="bold" textLength="20.00" lengthAdjust="spacingAndGlyphs">b</text>
<text x="-0.60" y="333.40" font-family="'Liberation Sans', sans-serif" font-size="29.5" font-weight="bold" textLength="15.40" lengthAdjust="spacingAndGlyphs">c</text>
<text x="356.70" y="338.60" font-family="'Liberation Sans', sans-serif" font-size="29.5" font-weight="bold" textLength="19.30" lengthAdjust="spacingAndGlyphs">d</text>
<text x="-1.60" y="675.40" font-family="'Liberation Sans', sans-serif" font-size="29.5" font-weight="bold" textLength="18.10" lengthAdjust="spacingAndGlyphs">e</text>
<text x="356.10" y="680.80" font-family="'Liberation Sans', sans-serif" font-size="29.5" font-weight="bold" textLength="12.20" lengthAdjust="spacingAndGlyphs">f</text>
</svg>
</body></html>
